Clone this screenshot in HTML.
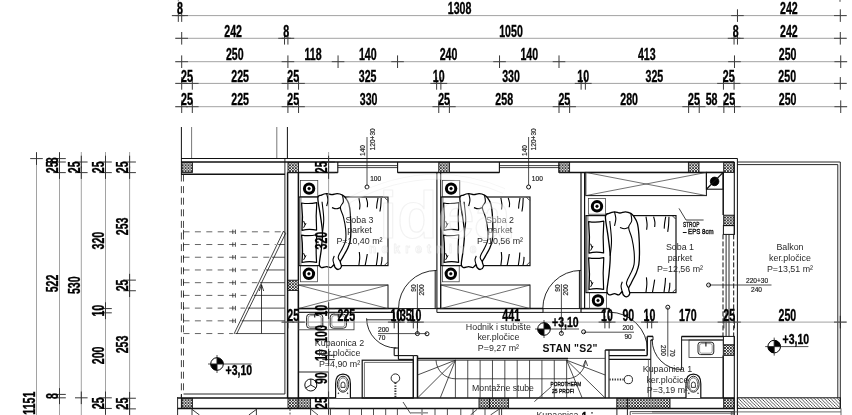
<!DOCTYPE html>
<html><head><meta charset="utf-8"><title>Floor plan</title>
<style>
html,body{margin:0;padding:0;background:#fff;}
body{width:852px;height:415px;overflow:hidden;font-family:"Liberation Sans",sans-serif;}
svg{display:block;font-family:"Liberation Sans",sans-serif;opacity:0.999;will-change:transform;}
</style></head><body>
<svg width="852" height="415" viewBox="0 0 852 415">
<defs>
<pattern id="xh" width="2.9" height="2.9" patternUnits="userSpaceOnUse">
<rect width="2.9" height="2.9" fill="#fff"/>
<path d="M0 0L2.9 2.9M2.9 0L0 2.9" stroke="#000" stroke-width="0.75"/>
</pattern>
<pattern id="dh" width="3.3" height="3.3" patternUnits="userSpaceOnUse">
<path d="M-0.5 -0.5L3.8 3.8M-0.5 2.8L0.5 3.8M2.8 -0.5L3.8 0.5" stroke="#111" stroke-width="0.7"/>
</pattern>
</defs>
<rect width="852" height="415" fill="#fff"/>
<line x1="171.7" y1="15.6" x2="846.9" y2="15.6" stroke="#8a8a8a" stroke-width="0.8"/>
<line x1="178.3" y1="9.3" x2="178.3" y2="21.9" stroke="#222" stroke-width="0.9"/>
<line x1="172" y1="15.6" x2="184.6" y2="15.6" stroke="#444" stroke-width="1"/>
<line x1="181.7" y1="9.3" x2="181.7" y2="21.9" stroke="#222" stroke-width="0.9"/>
<line x1="175.4" y1="15.6" x2="188" y2="15.6" stroke="#444" stroke-width="1"/>
<line x1="737.47" y1="9.3" x2="737.47" y2="21.9" stroke="#222" stroke-width="0.9"/>
<line x1="731.17" y1="15.6" x2="743.77" y2="15.6" stroke="#444" stroke-width="1"/>
<line x1="840.3" y1="9.3" x2="840.3" y2="21.9" stroke="#222" stroke-width="0.9"/>
<line x1="834" y1="15.6" x2="846.6" y2="15.6" stroke="#444" stroke-width="1"/>
<text transform="translate(180 14) scale(0.625 1)" font-size="17" font-weight="bold" text-anchor="middle" fill="#000" stroke="#000" stroke-width="0.35">8</text>
<text transform="translate(459.58 14) scale(0.625 1)" font-size="17" font-weight="bold" text-anchor="middle" fill="#000" stroke="#000" stroke-width="0.35">1308</text>
<text transform="translate(788.88 14) scale(0.625 1)" font-size="17" font-weight="bold" text-anchor="middle" fill="#000" stroke="#000" stroke-width="0.35">242</text>
<line x1="175.1" y1="38.3" x2="846.9" y2="38.3" stroke="#8a8a8a" stroke-width="0.8"/>
<line x1="181.7" y1="32" x2="181.7" y2="44.6" stroke="#222" stroke-width="0.9"/>
<line x1="175.4" y1="38.3" x2="188" y2="38.3" stroke="#444" stroke-width="1"/>
<line x1="284.53" y1="32" x2="284.53" y2="44.6" stroke="#222" stroke-width="0.9"/>
<line x1="278.23" y1="38.3" x2="290.83" y2="38.3" stroke="#444" stroke-width="1"/>
<line x1="287.92" y1="32" x2="287.92" y2="44.6" stroke="#222" stroke-width="0.9"/>
<line x1="281.62" y1="38.3" x2="294.22" y2="38.3" stroke="#444" stroke-width="1"/>
<line x1="734.07" y1="32" x2="734.07" y2="44.6" stroke="#222" stroke-width="0.9"/>
<line x1="727.77" y1="38.3" x2="740.37" y2="38.3" stroke="#444" stroke-width="1"/>
<line x1="737.47" y1="32" x2="737.47" y2="44.6" stroke="#222" stroke-width="0.9"/>
<line x1="731.17" y1="38.3" x2="743.77" y2="38.3" stroke="#444" stroke-width="1"/>
<line x1="840.3" y1="32" x2="840.3" y2="44.6" stroke="#222" stroke-width="0.9"/>
<line x1="834" y1="38.3" x2="846.6" y2="38.3" stroke="#444" stroke-width="1"/>
<text transform="translate(233.11 36.7) scale(0.625 1)" font-size="17" font-weight="bold" text-anchor="middle" fill="#000" stroke="#000" stroke-width="0.35">242</text>
<text transform="translate(286.23 36.7) scale(0.625 1)" font-size="17" font-weight="bold" text-anchor="middle" fill="#000" stroke="#000" stroke-width="0.35">8</text>
<text transform="translate(511 36.7) scale(0.625 1)" font-size="17" font-weight="bold" text-anchor="middle" fill="#000" stroke="#000" stroke-width="0.35">1050</text>
<text transform="translate(735.77 36.7) scale(0.625 1)" font-size="17" font-weight="bold" text-anchor="middle" fill="#000" stroke="#000" stroke-width="0.35">8</text>
<text transform="translate(788.88 36.7) scale(0.625 1)" font-size="17" font-weight="bold" text-anchor="middle" fill="#000" stroke="#000" stroke-width="0.35">242</text>
<line x1="175.1" y1="61.7" x2="847.32" y2="61.7" stroke="#8a8a8a" stroke-width="0.8"/>
<line x1="181.7" y1="55.4" x2="181.7" y2="68" stroke="#222" stroke-width="0.9"/>
<line x1="175.4" y1="61.7" x2="188" y2="61.7" stroke="#444" stroke-width="1"/>
<line x1="287.92" y1="55.4" x2="287.92" y2="68" stroke="#222" stroke-width="0.9"/>
<line x1="281.62" y1="61.7" x2="294.22" y2="61.7" stroke="#444" stroke-width="1"/>
<line x1="338.06" y1="55.4" x2="338.06" y2="68" stroke="#222" stroke-width="0.9"/>
<line x1="331.76" y1="61.7" x2="344.36" y2="61.7" stroke="#444" stroke-width="1"/>
<line x1="397.55" y1="55.4" x2="397.55" y2="68" stroke="#222" stroke-width="0.9"/>
<line x1="391.25" y1="61.7" x2="403.85" y2="61.7" stroke="#444" stroke-width="1"/>
<line x1="499.53" y1="55.4" x2="499.53" y2="68" stroke="#222" stroke-width="0.9"/>
<line x1="493.23" y1="61.7" x2="505.83" y2="61.7" stroke="#444" stroke-width="1"/>
<line x1="559.01" y1="55.4" x2="559.01" y2="68" stroke="#222" stroke-width="0.9"/>
<line x1="552.71" y1="61.7" x2="565.31" y2="61.7" stroke="#444" stroke-width="1"/>
<line x1="734.49" y1="55.4" x2="734.49" y2="68" stroke="#222" stroke-width="0.9"/>
<line x1="728.19" y1="61.7" x2="740.79" y2="61.7" stroke="#444" stroke-width="1"/>
<line x1="840.72" y1="55.4" x2="840.72" y2="68" stroke="#222" stroke-width="0.9"/>
<line x1="834.42" y1="61.7" x2="847.02" y2="61.7" stroke="#444" stroke-width="1"/>
<text transform="translate(234.81 60.1) scale(0.625 1)" font-size="17" font-weight="bold" text-anchor="middle" fill="#000" stroke="#000" stroke-width="0.35">250</text>
<text transform="translate(312.99 60.1) scale(0.625 1)" font-size="17" font-weight="bold" text-anchor="middle" fill="#000" stroke="#000" stroke-width="0.35">118</text>
<text transform="translate(367.81 60.1) scale(0.625 1)" font-size="17" font-weight="bold" text-anchor="middle" fill="#000" stroke="#000" stroke-width="0.35">140</text>
<text transform="translate(448.54 60.1) scale(0.625 1)" font-size="17" font-weight="bold" text-anchor="middle" fill="#000" stroke="#000" stroke-width="0.35">240</text>
<text transform="translate(529.27 60.1) scale(0.625 1)" font-size="17" font-weight="bold" text-anchor="middle" fill="#000" stroke="#000" stroke-width="0.35">140</text>
<text transform="translate(646.75 60.1) scale(0.625 1)" font-size="17" font-weight="bold" text-anchor="middle" fill="#000" stroke="#000" stroke-width="0.35">413</text>
<text transform="translate(787.61 60.1) scale(0.625 1)" font-size="17" font-weight="bold" text-anchor="middle" fill="#000" stroke="#000" stroke-width="0.35">250</text>
<line x1="175.1" y1="83.4" x2="846.9" y2="83.4" stroke="#8a8a8a" stroke-width="0.8"/>
<line x1="181.7" y1="77.1" x2="181.7" y2="89.7" stroke="#222" stroke-width="0.9"/>
<line x1="175.4" y1="83.4" x2="188" y2="83.4" stroke="#444" stroke-width="1"/>
<line x1="192.32" y1="77.1" x2="192.32" y2="89.7" stroke="#222" stroke-width="0.9"/>
<line x1="186.02" y1="83.4" x2="198.62" y2="83.4" stroke="#444" stroke-width="1"/>
<line x1="287.92" y1="77.1" x2="287.92" y2="89.7" stroke="#222" stroke-width="0.9"/>
<line x1="281.62" y1="83.4" x2="294.22" y2="83.4" stroke="#444" stroke-width="1"/>
<line x1="298.55" y1="77.1" x2="298.55" y2="89.7" stroke="#222" stroke-width="0.9"/>
<line x1="292.25" y1="83.4" x2="304.85" y2="83.4" stroke="#444" stroke-width="1"/>
<line x1="436.64" y1="77.1" x2="436.64" y2="89.7" stroke="#222" stroke-width="0.9"/>
<line x1="430.34" y1="83.4" x2="442.94" y2="83.4" stroke="#444" stroke-width="1"/>
<line x1="440.89" y1="77.1" x2="440.89" y2="89.7" stroke="#222" stroke-width="0.9"/>
<line x1="434.59" y1="83.4" x2="447.19" y2="83.4" stroke="#444" stroke-width="1"/>
<line x1="581.11" y1="77.1" x2="581.11" y2="89.7" stroke="#222" stroke-width="0.9"/>
<line x1="574.81" y1="83.4" x2="587.41" y2="83.4" stroke="#444" stroke-width="1"/>
<line x1="585.36" y1="77.1" x2="585.36" y2="89.7" stroke="#222" stroke-width="0.9"/>
<line x1="579.06" y1="83.4" x2="591.65" y2="83.4" stroke="#444" stroke-width="1"/>
<line x1="723.45" y1="77.1" x2="723.45" y2="89.7" stroke="#222" stroke-width="0.9"/>
<line x1="717.15" y1="83.4" x2="729.75" y2="83.4" stroke="#444" stroke-width="1"/>
<line x1="734.07" y1="77.1" x2="734.07" y2="89.7" stroke="#222" stroke-width="0.9"/>
<line x1="727.77" y1="83.4" x2="740.37" y2="83.4" stroke="#444" stroke-width="1"/>
<line x1="840.3" y1="77.1" x2="840.3" y2="89.7" stroke="#222" stroke-width="0.9"/>
<line x1="834" y1="83.4" x2="846.6" y2="83.4" stroke="#444" stroke-width="1"/>
<text transform="translate(187.01 81.8) scale(0.625 1)" font-size="17" font-weight="bold" text-anchor="middle" fill="#000" stroke="#000" stroke-width="0.35">25</text>
<text transform="translate(240.12 81.8) scale(0.625 1)" font-size="17" font-weight="bold" text-anchor="middle" fill="#000" stroke="#000" stroke-width="0.35">225</text>
<text transform="translate(293.24 81.8) scale(0.625 1)" font-size="17" font-weight="bold" text-anchor="middle" fill="#000" stroke="#000" stroke-width="0.35">25</text>
<text transform="translate(367.59 81.8) scale(0.625 1)" font-size="17" font-weight="bold" text-anchor="middle" fill="#000" stroke="#000" stroke-width="0.35">325</text>
<text transform="translate(438.76 81.8) scale(0.625 1)" font-size="17" font-weight="bold" text-anchor="middle" fill="#000" stroke="#000" stroke-width="0.35">10</text>
<text transform="translate(511 81.8) scale(0.625 1)" font-size="17" font-weight="bold" text-anchor="middle" fill="#000" stroke="#000" stroke-width="0.35">330</text>
<text transform="translate(583.23 81.8) scale(0.625 1)" font-size="17" font-weight="bold" text-anchor="middle" fill="#000" stroke="#000" stroke-width="0.35">10</text>
<text transform="translate(654.4 81.8) scale(0.625 1)" font-size="17" font-weight="bold" text-anchor="middle" fill="#000" stroke="#000" stroke-width="0.35">325</text>
<text transform="translate(728.76 81.8) scale(0.625 1)" font-size="17" font-weight="bold" text-anchor="middle" fill="#000" stroke="#000" stroke-width="0.35">25</text>
<text transform="translate(787.18 81.8) scale(0.625 1)" font-size="17" font-weight="bold" text-anchor="middle" fill="#000" stroke="#000" stroke-width="0.35">250</text>
<line x1="175.1" y1="106.7" x2="847.32" y2="106.7" stroke="#8a8a8a" stroke-width="0.8"/>
<line x1="181.7" y1="100.4" x2="181.7" y2="113" stroke="#222" stroke-width="0.9"/>
<line x1="175.4" y1="106.7" x2="188" y2="106.7" stroke="#444" stroke-width="1"/>
<line x1="192.32" y1="100.4" x2="192.32" y2="113" stroke="#222" stroke-width="0.9"/>
<line x1="186.02" y1="106.7" x2="198.62" y2="106.7" stroke="#444" stroke-width="1"/>
<line x1="287.92" y1="100.4" x2="287.92" y2="113" stroke="#222" stroke-width="0.9"/>
<line x1="281.62" y1="106.7" x2="294.22" y2="106.7" stroke="#444" stroke-width="1"/>
<line x1="298.55" y1="100.4" x2="298.55" y2="113" stroke="#222" stroke-width="0.9"/>
<line x1="292.25" y1="106.7" x2="304.85" y2="106.7" stroke="#444" stroke-width="1"/>
<line x1="438.76" y1="100.4" x2="438.76" y2="113" stroke="#222" stroke-width="0.9"/>
<line x1="432.46" y1="106.7" x2="445.06" y2="106.7" stroke="#444" stroke-width="1"/>
<line x1="449.39" y1="100.4" x2="449.39" y2="113" stroke="#222" stroke-width="0.9"/>
<line x1="443.09" y1="106.7" x2="455.69" y2="106.7" stroke="#444" stroke-width="1"/>
<line x1="559.01" y1="100.4" x2="559.01" y2="113" stroke="#222" stroke-width="0.9"/>
<line x1="552.71" y1="106.7" x2="565.31" y2="106.7" stroke="#444" stroke-width="1"/>
<line x1="569.63" y1="100.4" x2="569.63" y2="113" stroke="#222" stroke-width="0.9"/>
<line x1="563.33" y1="106.7" x2="575.93" y2="106.7" stroke="#444" stroke-width="1"/>
<line x1="688.61" y1="100.4" x2="688.61" y2="113" stroke="#222" stroke-width="0.9"/>
<line x1="682.31" y1="106.7" x2="694.91" y2="106.7" stroke="#444" stroke-width="1"/>
<line x1="699.23" y1="100.4" x2="699.23" y2="113" stroke="#222" stroke-width="0.9"/>
<line x1="692.93" y1="106.7" x2="705.53" y2="106.7" stroke="#444" stroke-width="1"/>
<line x1="723.87" y1="100.4" x2="723.87" y2="113" stroke="#222" stroke-width="0.9"/>
<line x1="717.57" y1="106.7" x2="730.17" y2="106.7" stroke="#444" stroke-width="1"/>
<line x1="734.49" y1="100.4" x2="734.49" y2="113" stroke="#222" stroke-width="0.9"/>
<line x1="728.19" y1="106.7" x2="740.79" y2="106.7" stroke="#444" stroke-width="1"/>
<line x1="840.72" y1="100.4" x2="840.72" y2="113" stroke="#222" stroke-width="0.9"/>
<line x1="834.42" y1="106.7" x2="847.02" y2="106.7" stroke="#444" stroke-width="1"/>
<text transform="translate(187.01 105.1) scale(0.625 1)" font-size="17" font-weight="bold" text-anchor="middle" fill="#000" stroke="#000" stroke-width="0.35">25</text>
<text transform="translate(240.12 105.1) scale(0.625 1)" font-size="17" font-weight="bold" text-anchor="middle" fill="#000" stroke="#000" stroke-width="0.35">225</text>
<text transform="translate(293.24 105.1) scale(0.625 1)" font-size="17" font-weight="bold" text-anchor="middle" fill="#000" stroke="#000" stroke-width="0.35">25</text>
<text transform="translate(368.66 105.1) scale(0.625 1)" font-size="17" font-weight="bold" text-anchor="middle" fill="#000" stroke="#000" stroke-width="0.35">330</text>
<text transform="translate(444.08 105.1) scale(0.625 1)" font-size="17" font-weight="bold" text-anchor="middle" fill="#000" stroke="#000" stroke-width="0.35">25</text>
<text transform="translate(504.2 105.1) scale(0.625 1)" font-size="17" font-weight="bold" text-anchor="middle" fill="#000" stroke="#000" stroke-width="0.35">258</text>
<text transform="translate(564.32 105.1) scale(0.625 1)" font-size="17" font-weight="bold" text-anchor="middle" fill="#000" stroke="#000" stroke-width="0.35">25</text>
<text transform="translate(629.12 105.1) scale(0.625 1)" font-size="17" font-weight="bold" text-anchor="middle" fill="#000" stroke="#000" stroke-width="0.35">280</text>
<text transform="translate(693.92 105.1) scale(0.625 1)" font-size="17" font-weight="bold" text-anchor="middle" fill="#000" stroke="#000" stroke-width="0.35">25</text>
<text transform="translate(711.55 105.1) scale(0.625 1)" font-size="17" font-weight="bold" text-anchor="middle" fill="#000" stroke="#000" stroke-width="0.35">58</text>
<text transform="translate(729.18 105.1) scale(0.625 1)" font-size="17" font-weight="bold" text-anchor="middle" fill="#000" stroke="#000" stroke-width="0.35">25</text>
<text transform="translate(787.61 105.1) scale(0.625 1)" font-size="17" font-weight="bold" text-anchor="middle" fill="#000" stroke="#000" stroke-width="0.35">250</text>
<line x1="36.5" y1="152" x2="36.5" y2="415" stroke="#8a8a8a" stroke-width="0.8"/>
<line x1="30.2" y1="158.6" x2="42.8" y2="158.6" stroke="#222" stroke-width="0.9"/>
<line x1="36.5" y1="152.3" x2="36.5" y2="164.9" stroke="#333" stroke-width="1"/>
<text transform="translate(34.9 403.13) rotate(-90) scale(0.625 1)" font-size="17" font-weight="bold" text-anchor="middle" fill="#000" stroke="#000" stroke-width="0.35">1151</text>
<line x1="59.5" y1="152" x2="59.5" y2="415" stroke="#8a8a8a" stroke-width="0.8"/>
<line x1="53.2" y1="158.6" x2="65.8" y2="158.6" stroke="#222" stroke-width="0.9"/>
<line x1="59.5" y1="152.3" x2="59.5" y2="164.9" stroke="#333" stroke-width="1"/>
<line x1="53.2" y1="162" x2="65.8" y2="162" stroke="#222" stroke-width="0.9"/>
<line x1="59.5" y1="155.7" x2="59.5" y2="168.3" stroke="#333" stroke-width="1"/>
<line x1="53.2" y1="172.62" x2="65.8" y2="172.62" stroke="#222" stroke-width="0.9"/>
<line x1="59.5" y1="166.32" x2="59.5" y2="178.92" stroke="#333" stroke-width="1"/>
<line x1="53.2" y1="394.42" x2="65.8" y2="394.42" stroke="#222" stroke-width="0.9"/>
<line x1="59.5" y1="388.12" x2="59.5" y2="400.72" stroke="#333" stroke-width="1"/>
<line x1="53.2" y1="397.82" x2="65.8" y2="397.82" stroke="#222" stroke-width="0.9"/>
<line x1="59.5" y1="391.52" x2="59.5" y2="404.12" stroke="#333" stroke-width="1"/>
<text transform="translate(57.9 160.3) rotate(-90) scale(0.625 1)" font-size="17" font-weight="bold" text-anchor="middle" fill="#000" stroke="#000" stroke-width="0.35">8</text>
<text transform="translate(57.9 167.31) rotate(-90) scale(0.625 1)" font-size="17" font-weight="bold" text-anchor="middle" fill="#000" stroke="#000" stroke-width="0.35">25</text>
<text transform="translate(57.9 283.52) rotate(-90) scale(0.625 1)" font-size="17" font-weight="bold" text-anchor="middle" fill="#000" stroke="#000" stroke-width="0.35">522</text>
<text transform="translate(57.9 396.12) rotate(-90) scale(0.625 1)" font-size="17" font-weight="bold" text-anchor="middle" fill="#000" stroke="#000" stroke-width="0.35">8</text>
<line x1="81.3" y1="152" x2="81.3" y2="415" stroke="#8a8a8a" stroke-width="0.8"/>
<line x1="75" y1="162" x2="87.6" y2="162" stroke="#222" stroke-width="0.9"/>
<line x1="81.3" y1="155.7" x2="81.3" y2="168.3" stroke="#333" stroke-width="1"/>
<line x1="75" y1="172.62" x2="87.6" y2="172.62" stroke="#222" stroke-width="0.9"/>
<line x1="81.3" y1="166.32" x2="81.3" y2="178.92" stroke="#333" stroke-width="1"/>
<line x1="75" y1="397.82" x2="87.6" y2="397.82" stroke="#222" stroke-width="0.9"/>
<line x1="81.3" y1="391.52" x2="81.3" y2="404.12" stroke="#333" stroke-width="1"/>
<text transform="translate(79.7 167.31) rotate(-90) scale(0.625 1)" font-size="17" font-weight="bold" text-anchor="middle" fill="#000" stroke="#000" stroke-width="0.35">25</text>
<text transform="translate(79.7 285.22) rotate(-90) scale(0.625 1)" font-size="17" font-weight="bold" text-anchor="middle" fill="#000" stroke="#000" stroke-width="0.35">530</text>
<line x1="105.5" y1="152" x2="105.5" y2="415" stroke="#8a8a8a" stroke-width="0.8"/>
<line x1="99.2" y1="162" x2="111.8" y2="162" stroke="#222" stroke-width="0.9"/>
<line x1="105.5" y1="155.7" x2="105.5" y2="168.3" stroke="#333" stroke-width="1"/>
<line x1="99.2" y1="172.62" x2="111.8" y2="172.62" stroke="#222" stroke-width="0.9"/>
<line x1="105.5" y1="166.32" x2="105.5" y2="178.92" stroke="#333" stroke-width="1"/>
<line x1="99.2" y1="308.59" x2="111.8" y2="308.59" stroke="#222" stroke-width="0.9"/>
<line x1="105.5" y1="302.29" x2="105.5" y2="314.89" stroke="#333" stroke-width="1"/>
<line x1="99.2" y1="312.84" x2="111.8" y2="312.84" stroke="#222" stroke-width="0.9"/>
<line x1="105.5" y1="306.54" x2="105.5" y2="319.14" stroke="#333" stroke-width="1"/>
<line x1="99.2" y1="397.82" x2="111.8" y2="397.82" stroke="#222" stroke-width="0.9"/>
<line x1="105.5" y1="391.52" x2="105.5" y2="404.12" stroke="#333" stroke-width="1"/>
<line x1="99.2" y1="408.44" x2="111.8" y2="408.44" stroke="#222" stroke-width="0.9"/>
<line x1="105.5" y1="402.14" x2="105.5" y2="414.74" stroke="#333" stroke-width="1"/>
<text transform="translate(103.9 167.31) rotate(-90) scale(0.625 1)" font-size="17" font-weight="bold" text-anchor="middle" fill="#000" stroke="#000" stroke-width="0.35">25</text>
<text transform="translate(103.9 240.61) rotate(-90) scale(0.625 1)" font-size="17" font-weight="bold" text-anchor="middle" fill="#000" stroke="#000" stroke-width="0.35">320</text>
<text transform="translate(103.9 310.72) rotate(-90) scale(0.625 1)" font-size="17" font-weight="bold" text-anchor="middle" fill="#000" stroke="#000" stroke-width="0.35">10</text>
<text transform="translate(103.9 355.33) rotate(-90) scale(0.625 1)" font-size="17" font-weight="bold" text-anchor="middle" fill="#000" stroke="#000" stroke-width="0.35">200</text>
<text transform="translate(103.9 403.13) rotate(-90) scale(0.625 1)" font-size="17" font-weight="bold" text-anchor="middle" fill="#000" stroke="#000" stroke-width="0.35">25</text>
<line x1="129.6" y1="152" x2="129.6" y2="415" stroke="#8a8a8a" stroke-width="0.8"/>
<line x1="123.3" y1="162" x2="135.9" y2="162" stroke="#222" stroke-width="0.9"/>
<line x1="129.6" y1="155.7" x2="129.6" y2="168.3" stroke="#333" stroke-width="1"/>
<line x1="123.3" y1="172.62" x2="135.9" y2="172.62" stroke="#222" stroke-width="0.9"/>
<line x1="129.6" y1="166.32" x2="129.6" y2="178.92" stroke="#333" stroke-width="1"/>
<line x1="123.3" y1="280.12" x2="135.9" y2="280.12" stroke="#222" stroke-width="0.9"/>
<line x1="129.6" y1="273.82" x2="129.6" y2="286.42" stroke="#333" stroke-width="1"/>
<line x1="123.3" y1="290.74" x2="135.9" y2="290.74" stroke="#222" stroke-width="0.9"/>
<line x1="129.6" y1="284.44" x2="129.6" y2="297.04" stroke="#333" stroke-width="1"/>
<line x1="123.3" y1="398.24" x2="135.9" y2="398.24" stroke="#222" stroke-width="0.9"/>
<line x1="129.6" y1="391.94" x2="129.6" y2="404.54" stroke="#333" stroke-width="1"/>
<line x1="123.3" y1="408.87" x2="135.9" y2="408.87" stroke="#222" stroke-width="0.9"/>
<line x1="129.6" y1="402.57" x2="129.6" y2="415.17" stroke="#333" stroke-width="1"/>
<text transform="translate(128 167.31) rotate(-90) scale(0.625 1)" font-size="17" font-weight="bold" text-anchor="middle" fill="#000" stroke="#000" stroke-width="0.35">25</text>
<text transform="translate(128 226.37) rotate(-90) scale(0.625 1)" font-size="17" font-weight="bold" text-anchor="middle" fill="#000" stroke="#000" stroke-width="0.35">253</text>
<text transform="translate(128 285.43) rotate(-90) scale(0.625 1)" font-size="17" font-weight="bold" text-anchor="middle" fill="#000" stroke="#000" stroke-width="0.35">25</text>
<text transform="translate(128 344.49) rotate(-90) scale(0.625 1)" font-size="17" font-weight="bold" text-anchor="middle" fill="#000" stroke="#000" stroke-width="0.35">253</text>
<text transform="translate(128 403.56) rotate(-90) scale(0.625 1)" font-size="17" font-weight="bold" text-anchor="middle" fill="#000" stroke="#000" stroke-width="0.35">25</text>
<line x1="181.4" y1="127" x2="181.4" y2="158.5" stroke="#111" stroke-width="1"/>
<line x1="191.6" y1="127" x2="191.6" y2="158.5" stroke="#555" stroke-width="0.8"/>
<line x1="276.8" y1="127" x2="276.8" y2="158.5" stroke="#555" stroke-width="0.8"/>
<line x1="287.4" y1="127" x2="287.4" y2="158.5" stroke="#111" stroke-width="1"/>
<line x1="181" y1="158.5" x2="737.5" y2="158.5" stroke="#111" stroke-width="1"/>
<line x1="737.4" y1="158.5" x2="737.4" y2="415" stroke="#111" stroke-width="1"/>
<line x1="181" y1="162" x2="734.3" y2="162" stroke="#111" stroke-width="1.5"/>
<line x1="181" y1="174.2" x2="285" y2="174.2" stroke="#111" stroke-width="1.5"/>
<line x1="181.4" y1="158.5" x2="181.4" y2="174.5" stroke="#111" stroke-width="1"/>
<line x1="284.9" y1="158.5" x2="284.9" y2="394" stroke="#111" stroke-width="0.9"/>
<line x1="287.6" y1="172.4" x2="337.8" y2="172.4" stroke="#111" stroke-width="1.5"/>
<line x1="397.6" y1="172.4" x2="499.4" y2="172.4" stroke="#111" stroke-width="1.5"/>
<line x1="559" y1="172.4" x2="723.2" y2="172.4" stroke="#111" stroke-width="1.5"/>
<line x1="337.8" y1="162" x2="337.8" y2="172.8" stroke="#111" stroke-width="1.1"/>
<line x1="397.6" y1="162" x2="397.6" y2="172.8" stroke="#111" stroke-width="1.1"/>
<line x1="337.8" y1="165.6" x2="397.6" y2="165.6" stroke="#111" stroke-width="0.8"/>
<line x1="337.8" y1="167.6" x2="397.6" y2="167.6" stroke="#111" stroke-width="0.8"/>
<line x1="499.4" y1="162" x2="499.4" y2="172.8" stroke="#111" stroke-width="1.1"/>
<line x1="559" y1="162" x2="559" y2="172.8" stroke="#111" stroke-width="1.1"/>
<line x1="499.4" y1="165.6" x2="559" y2="165.6" stroke="#111" stroke-width="0.8"/>
<line x1="499.4" y1="167.6" x2="559" y2="167.6" stroke="#111" stroke-width="0.8"/>
<rect x="181.9" y="162.4" width="10.5" height="10" fill="url(#xh)" stroke="#111" stroke-width="0.9"/>
<rect x="288" y="162.4" width="10.5" height="10" fill="url(#xh)" stroke="#111" stroke-width="0.9"/>
<rect x="438.8" y="162.4" width="10.6" height="10" fill="url(#xh)" stroke="#111" stroke-width="0.9"/>
<rect x="559" y="162.4" width="10.6" height="10" fill="url(#xh)" stroke="#111" stroke-width="0.9"/>
<rect x="688.4" y="162.4" width="10.6" height="10" fill="url(#xh)" stroke="#111" stroke-width="0.9"/>
<rect x="723.7" y="162.4" width="10.3" height="10" fill="url(#xh)" stroke="#111" stroke-width="0.9"/>
<line x1="734.3" y1="162" x2="734.3" y2="234.4" stroke="#111" stroke-width="1.1"/>
<line x1="734.3" y1="336.4" x2="734.3" y2="415" stroke="#111" stroke-width="1.1"/>
<line x1="723.2" y1="172.4" x2="723.2" y2="215" stroke="#111" stroke-width="1.5"/>
<rect x="723.7" y="215.2" width="10.3" height="10.4" fill="url(#xh)" stroke="#111" stroke-width="0.9"/>
<rect x="723.4" y="225.6" width="10.9" height="8.8" fill="none" stroke="#111" stroke-width="1"/>
<line x1="723" y1="234.4" x2="723" y2="336.4" stroke="#111" stroke-width="1" stroke-dasharray="5 2"/>
<line x1="726.1" y1="234.4" x2="726.1" y2="336.4" stroke="#111" stroke-width="0.9"/>
<line x1="729" y1="234.4" x2="729" y2="336.4" stroke="#111" stroke-width="0.9"/>
<line x1="733.7" y1="234.4" x2="733.7" y2="336.4" stroke="#111" stroke-width="1" stroke-dasharray="5 2"/>
<rect x="723.4" y="336.4" width="10.9" height="8.6" fill="none" stroke="#111" stroke-width="1"/>
<rect x="723.7" y="345" width="10.3" height="10.4" fill="url(#xh)" stroke="#111" stroke-width="0.9"/>
<line x1="723.2" y1="355.4" x2="723.2" y2="398" stroke="#111" stroke-width="1.5"/>
<rect x="723.7" y="398.2" width="10.3" height="10" fill="url(#xh)" stroke="#111" stroke-width="0.9"/>
<line x1="737.4" y1="162" x2="840.3" y2="162" stroke="#111" stroke-width="0.9"/>
<line x1="737.4" y1="164.6" x2="837.8" y2="164.6" stroke="#111" stroke-width="0.9"/>
<line x1="840.3" y1="162" x2="840.3" y2="408.4" stroke="#111" stroke-width="0.9"/>
<line x1="837.8" y1="164.6" x2="837.8" y2="397.8" stroke="#111" stroke-width="0.9"/>
<rect x="737.4" y="397.8" width="102.9" height="10.6" fill="url(#dh)" stroke="#111" stroke-width="1"/>
<line x1="652" y1="411.9" x2="841" y2="411.9" stroke="#444" stroke-width="0.8"/>
<line x1="841" y1="408.4" x2="841" y2="415" stroke="#444" stroke-width="0.8"/>
<line x1="731.3" y1="412" x2="731.3" y2="415" stroke="#111" stroke-width="0.7"/>
<line x1="733" y1="412" x2="733" y2="415" stroke="#111" stroke-width="0.7"/>
<line x1="177.6" y1="397" x2="177.6" y2="415" stroke="#111" stroke-width="0.9"/>
<line x1="177.6" y1="398" x2="734.3" y2="398" stroke="#111" stroke-width="1.5"/>
<line x1="177.6" y1="408.4" x2="734.3" y2="408.4" stroke="#111" stroke-width="1.5"/>
<line x1="181.4" y1="394" x2="181.4" y2="408.4" stroke="#111" stroke-width="1"/>
<rect x="181.9" y="398.4" width="10.5" height="9.6" fill="url(#xh)" stroke="#111" stroke-width="0.9"/>
<rect x="288" y="398.4" width="10.2" height="9.6" fill="url(#xh)" stroke="#111" stroke-width="0.9"/>
<rect x="298.2" y="398.4" width="12.4" height="9.6" fill="url(#xh)" stroke="#111" stroke-width="0.9"/>
<rect x="479" y="398.4" width="10.4" height="9.6" fill="url(#xh)" stroke="#111" stroke-width="0.9"/>
<rect x="489.4" y="398.4" width="19.2" height="9.6" fill="url(#xh)" stroke="#111" stroke-width="0.9"/>
<rect x="616.8" y="398.4" width="10.6" height="9.6" fill="url(#xh)" stroke="#111" stroke-width="0.9"/>
<rect x="627.4" y="398.4" width="42.6" height="9.6" fill="url(#xh)" stroke="#111" stroke-width="0.9"/>
<line x1="181.4" y1="174.5" x2="181.4" y2="398" stroke="#222" stroke-width="0.85" stroke-dasharray="7 4.6"/>
<line x1="183.5" y1="174.5" x2="183.5" y2="394" stroke="#222" stroke-width="0.8" stroke-dasharray="7 4.6"/>
<line x1="183.5" y1="394" x2="284.9" y2="394" stroke="#111" stroke-width="0.9"/>
<line x1="287.6" y1="172.4" x2="287.6" y2="398" stroke="#111" stroke-width="1.5"/>
<line x1="298.4" y1="172.4" x2="298.4" y2="280" stroke="#111" stroke-width="1.5"/>
<rect x="288" y="280.2" width="10.4" height="10.2" fill="url(#xh)" stroke="#111" stroke-width="0.9"/>
<line x1="298.4" y1="290.4" x2="298.4" y2="398" stroke="#111" stroke-width="1.5"/>
<line x1="183.5" y1="231.8" x2="281.9" y2="231.8" stroke="#333" stroke-width="0.75" stroke-dasharray="6 5.4"/>
<line x1="232.8" y1="229.6" x2="232.8" y2="234" stroke="#222" stroke-width="0.8"/>
<line x1="235.4" y1="229.6" x2="235.4" y2="234" stroke="#222" stroke-width="0.8"/>
<line x1="183.5" y1="229.8" x2="183.5" y2="233.8" stroke="#222" stroke-width="0.8"/>
<line x1="183.5" y1="244.52" x2="275.78" y2="244.52" stroke="#333" stroke-width="0.75" stroke-dasharray="6 5.4"/>
<line x1="278.28" y1="244.52" x2="284.9" y2="244.52" stroke="#222" stroke-width="0.8"/>
<line x1="232.8" y1="242.32" x2="232.8" y2="246.72" stroke="#222" stroke-width="0.8"/>
<line x1="235.4" y1="242.32" x2="235.4" y2="246.72" stroke="#222" stroke-width="0.8"/>
<line x1="183.5" y1="242.52" x2="183.5" y2="246.52" stroke="#222" stroke-width="0.8"/>
<line x1="183.5" y1="257.24" x2="269.66" y2="257.24" stroke="#333" stroke-width="0.75" stroke-dasharray="6 5.4"/>
<line x1="272.16" y1="257.24" x2="284.9" y2="257.24" stroke="#222" stroke-width="0.8"/>
<line x1="232.8" y1="255.04" x2="232.8" y2="259.44" stroke="#222" stroke-width="0.8"/>
<line x1="235.4" y1="255.04" x2="235.4" y2="259.44" stroke="#222" stroke-width="0.8"/>
<line x1="183.5" y1="255.24" x2="183.5" y2="259.24" stroke="#222" stroke-width="0.8"/>
<line x1="183.5" y1="269.96" x2="263.53" y2="269.96" stroke="#333" stroke-width="0.75" stroke-dasharray="6 5.4"/>
<line x1="266.03" y1="269.96" x2="284.9" y2="269.96" stroke="#222" stroke-width="0.8"/>
<line x1="232.8" y1="267.76" x2="232.8" y2="272.16" stroke="#222" stroke-width="0.8"/>
<line x1="235.4" y1="267.76" x2="235.4" y2="272.16" stroke="#222" stroke-width="0.8"/>
<line x1="183.5" y1="267.96" x2="183.5" y2="271.96" stroke="#222" stroke-width="0.8"/>
<line x1="183.5" y1="282.68" x2="257.41" y2="282.68" stroke="#333" stroke-width="0.75" stroke-dasharray="6 5.4"/>
<line x1="259.91" y1="282.68" x2="284.9" y2="282.68" stroke="#222" stroke-width="0.8"/>
<line x1="232.8" y1="280.48" x2="232.8" y2="284.88" stroke="#222" stroke-width="0.8"/>
<line x1="235.4" y1="280.48" x2="235.4" y2="284.88" stroke="#222" stroke-width="0.8"/>
<line x1="183.5" y1="280.68" x2="183.5" y2="284.68" stroke="#222" stroke-width="0.8"/>
<line x1="183.5" y1="295.4" x2="251.28" y2="295.4" stroke="#333" stroke-width="0.75" stroke-dasharray="6 5.4"/>
<line x1="253.78" y1="295.4" x2="284.9" y2="295.4" stroke="#222" stroke-width="0.8"/>
<line x1="232.8" y1="293.2" x2="232.8" y2="297.6" stroke="#222" stroke-width="0.8"/>
<line x1="235.4" y1="293.2" x2="235.4" y2="297.6" stroke="#222" stroke-width="0.8"/>
<line x1="183.5" y1="293.4" x2="183.5" y2="297.4" stroke="#222" stroke-width="0.8"/>
<line x1="183.5" y1="308.12" x2="245.16" y2="308.12" stroke="#333" stroke-width="0.75" stroke-dasharray="6 5.4"/>
<line x1="247.66" y1="308.12" x2="284.9" y2="308.12" stroke="#222" stroke-width="0.8"/>
<line x1="232.8" y1="305.92" x2="232.8" y2="310.32" stroke="#222" stroke-width="0.8"/>
<line x1="235.4" y1="305.92" x2="235.4" y2="310.32" stroke="#222" stroke-width="0.8"/>
<line x1="183.5" y1="306.12" x2="183.5" y2="310.12" stroke="#222" stroke-width="0.8"/>
<line x1="183.5" y1="320.84" x2="239.04" y2="320.84" stroke="#333" stroke-width="0.75" stroke-dasharray="6 5.4"/>
<line x1="241.54" y1="320.84" x2="284.9" y2="320.84" stroke="#222" stroke-width="0.8"/>
<line x1="232.8" y1="318.64" x2="232.8" y2="323.04" stroke="#222" stroke-width="0.8"/>
<line x1="235.4" y1="318.64" x2="235.4" y2="323.04" stroke="#222" stroke-width="0.8"/>
<line x1="183.5" y1="318.84" x2="183.5" y2="322.84" stroke="#222" stroke-width="0.8"/>
<line x1="183.5" y1="333.56" x2="232.91" y2="333.56" stroke="#333" stroke-width="0.75" stroke-dasharray="6 5.4"/>
<line x1="235.41" y1="333.56" x2="284.9" y2="333.56" stroke="#222" stroke-width="0.8"/>
<line x1="283.6" y1="231" x2="234" y2="334" stroke="#111" stroke-width="0.8"/>
<line x1="285.6" y1="233.4" x2="236.6" y2="334" stroke="#111" stroke-width="0.8"/>
<line x1="283.6" y1="231" x2="285.6" y2="233.4" stroke="#111" stroke-width="0.8"/>
<line x1="261.5" y1="285" x2="261.5" y2="333.5" stroke="#111" stroke-width="0.8"/>
<path d="M259.3 291 L261.5 284.5 L263.7 291" fill="none" stroke="#111" stroke-width="0.8" />
<line x1="436.9" y1="172.4" x2="436.9" y2="308.6" stroke="#111" stroke-width="1.1"/>
<line x1="440.7" y1="172.4" x2="440.7" y2="308.6" stroke="#111" stroke-width="1.1"/>
<line x1="581" y1="172.4" x2="581" y2="312.4" stroke="#111" stroke-width="1.2"/>
<line x1="584.6" y1="172.4" x2="584.6" y2="308.6" stroke="#111" stroke-width="1.2"/>
<line x1="298.4" y1="308.6" x2="398.4" y2="308.6" stroke="#111" stroke-width="1.5"/>
<line x1="298.4" y1="312.4" x2="394.2" y2="312.4" stroke="#111" stroke-width="1.1"/>
<line x1="398.4" y1="308.6" x2="398.4" y2="312.8" stroke="#111" stroke-width="1"/>
<line x1="436.9" y1="308.6" x2="543" y2="308.6" stroke="#111" stroke-width="1.5"/>
<line x1="436.9" y1="312.4" x2="543" y2="312.4" stroke="#111" stroke-width="1"/>
<line x1="543" y1="308.6" x2="543" y2="312.4" stroke="#111" stroke-width="1"/>
<line x1="436.9" y1="308.6" x2="436.9" y2="312.4" stroke="#111" stroke-width="1"/>
<line x1="581" y1="308.6" x2="609.4" y2="308.6" stroke="#111" stroke-width="1.5"/>
<line x1="581" y1="312.4" x2="605.2" y2="312.4" stroke="#111" stroke-width="1"/>
<line x1="398.4" y1="308.6" x2="436.9" y2="308.6" stroke="#111" stroke-width="1"/>
<line x1="543" y1="308.6" x2="581" y2="308.6" stroke="#111" stroke-width="1"/>
<line x1="543" y1="312.4" x2="581" y2="312.4" stroke="#111" stroke-width="0.9"/>
<rect x="298.4" y="285" width="89.6" height="23.6" fill="none" stroke="#111" stroke-width="1"/>
<line x1="298.4" y1="285" x2="388" y2="308.6" stroke="#333" stroke-width="0.7"/>
<line x1="298.4" y1="308.6" x2="388" y2="285" stroke="#333" stroke-width="0.7"/>
<rect x="440.7" y="285" width="89.3" height="23.6" fill="none" stroke="#111" stroke-width="1"/>
<line x1="440.7" y1="285" x2="530" y2="308.6" stroke="#333" stroke-width="0.7"/>
<line x1="440.7" y1="308.6" x2="530" y2="285" stroke="#333" stroke-width="0.7"/>
<rect x="585.8" y="172.4" width="120.6" height="23.2" fill="none" stroke="#111" stroke-width="1"/>
<line x1="585.8" y1="172.4" x2="706.4" y2="195.6" stroke="#333" stroke-width="0.7"/>
<line x1="585.8" y1="195.6" x2="706.4" y2="172.4" stroke="#333" stroke-width="0.7"/>
<rect x="706.4" y="172.4" width="16.8" height="16.8" fill="none" stroke="#111" stroke-width="1.1"/>
<circle cx="714.6" cy="181.4" r="4.3" fill="#000" stroke="#000" stroke-width="0.8"/>
<line x1="706.4" y1="189.2" x2="723.2" y2="172.4" stroke="#111" stroke-width="1.3"/>
<rect x="300.4" y="180.4" width="17.4" height="16.4" fill="none" stroke="#333" stroke-width="0.7"/>
<circle cx="309.1" cy="188.6" r="4.7" fill="none" stroke="#000" stroke-width="3"/>
<circle cx="309.1" cy="188.6" r="1.3" fill="#000" stroke="#000" stroke-width="0.6"/>
<rect x="300.4" y="265.8" width="17" height="16" fill="none" stroke="#333" stroke-width="0.7"/>
<circle cx="308.9" cy="273.8" r="4.7" fill="none" stroke="#000" stroke-width="3"/>
<circle cx="308.9" cy="273.8" r="1.3" fill="#000" stroke="#000" stroke-width="0.6"/>
<rect x="442.4" y="180.4" width="17.4" height="16.4" fill="none" stroke="#333" stroke-width="0.7"/>
<circle cx="451.1" cy="188.6" r="4.7" fill="none" stroke="#000" stroke-width="3"/>
<circle cx="451.1" cy="188.6" r="1.3" fill="#000" stroke="#000" stroke-width="0.6"/>
<rect x="442.4" y="265.8" width="16.8" height="16" fill="none" stroke="#333" stroke-width="0.7"/>
<circle cx="450.8" cy="273.8" r="4.7" fill="none" stroke="#000" stroke-width="3"/>
<circle cx="450.8" cy="273.8" r="1.3" fill="#000" stroke="#000" stroke-width="0.6"/>
<rect x="588.4" y="198.4" width="17.2" height="15.8" fill="none" stroke="#333" stroke-width="0.7"/>
<circle cx="597" cy="206.3" r="4.7" fill="none" stroke="#000" stroke-width="3"/>
<circle cx="597" cy="206.3" r="1.3" fill="#000" stroke="#000" stroke-width="0.6"/>
<rect x="589.6" y="292.6" width="16.8" height="15.8" fill="none" stroke="#333" stroke-width="0.7"/>
<circle cx="598" cy="300.5" r="4.7" fill="none" stroke="#000" stroke-width="3"/>
<circle cx="598" cy="300.5" r="1.3" fill="#000" stroke="#000" stroke-width="0.6"/>
<path d="M398.5 308.6 A38.2 38.2 0 0 1 436.7 270.4" fill="none" stroke="#111" stroke-width="0.9" />
<line x1="435.2" y1="270.4" x2="435.2" y2="308.6" stroke="#111" stroke-width="1"/>
<path d="M542.8 308.6 A38.2 38.2 0 0 1 581 270.4" fill="none" stroke="#111" stroke-width="0.9" />
<line x1="579.4" y1="270.4" x2="579.4" y2="308.6" stroke="#111" stroke-width="1"/>
<path d="M609.4 312.2 A38.2 38.2 0 0 1 647.6 350.4" fill="none" stroke="#111" stroke-width="0.9" />
<path d="M366.6 318.3 A29.7 29.7 0 0 0 396.3 348" fill="none" stroke="#111" stroke-width="0.9" />
<line x1="366.6" y1="319.8" x2="394" y2="319.8" stroke="#111" stroke-width="0.9"/>
<path d="M652.2 340 A29.6 29.6 0 0 0 681.6 369.6" fill="none" stroke="#111" stroke-width="0.9" />
<line x1="681.6" y1="340" x2="681.6" y2="369.6" stroke="#111" stroke-width="1"/>
<line x1="394.2" y1="312.4" x2="394.2" y2="318" stroke="#111" stroke-width="1.1"/>
<line x1="394.2" y1="348" x2="394.2" y2="355.6" stroke="#111" stroke-width="1.1"/>
<line x1="398.4" y1="312.8" x2="398.4" y2="359.4" stroke="#111" stroke-width="1.1"/>
<line x1="394.2" y1="355.6" x2="413.3" y2="355.6" stroke="#111" stroke-width="1.1"/>
<line x1="398.4" y1="359.4" x2="413.3" y2="359.4" stroke="#111" stroke-width="1.1"/>
<line x1="413.3" y1="355.6" x2="417.5" y2="355.6" stroke="#111" stroke-width="1.1"/>
<line x1="394.2" y1="348" x2="398.4" y2="348" stroke="#111" stroke-width="1"/>
<line x1="413.3" y1="355.6" x2="413.3" y2="398" stroke="#111" stroke-width="1.1"/>
<line x1="417.5" y1="355.6" x2="417.5" y2="398" stroke="#111" stroke-width="1.5"/>
<line x1="605.2" y1="308.6" x2="605.2" y2="312.4" stroke="#111" stroke-width="1.1"/>
<line x1="609.4" y1="308.6" x2="609.4" y2="312.4" stroke="#111" stroke-width="1.1"/>
<line x1="605.2" y1="350" x2="605.2" y2="398" stroke="#111" stroke-width="1.1"/>
<line x1="609" y1="350" x2="609" y2="398" stroke="#111" stroke-width="1.1"/>
<line x1="605.2" y1="350" x2="645" y2="350" stroke="#111" stroke-width="1.5"/>
<line x1="609" y1="355.6" x2="647.2" y2="355.6" stroke="#111" stroke-width="1.1"/>
<line x1="609" y1="359.4" x2="650.8" y2="359.4" stroke="#111" stroke-width="1.1"/>
<line x1="647.2" y1="336.4" x2="647.2" y2="355.6" stroke="#111" stroke-width="1.5"/>
<line x1="650.8" y1="340" x2="650.8" y2="398" stroke="#111" stroke-width="1"/>
<line x1="648.4" y1="359.4" x2="648.4" y2="398" stroke="#444" stroke-width="0.7"/>
<line x1="647.2" y1="336.4" x2="653" y2="336.4" stroke="#111" stroke-width="1.5"/>
<line x1="650.8" y1="340" x2="653" y2="340" stroke="#111" stroke-width="1.5"/>
<line x1="653" y1="336.4" x2="653" y2="340" stroke="#111" stroke-width="1"/>
<line x1="681.6" y1="336.4" x2="723.2" y2="336.4" stroke="#111" stroke-width="1.5"/>
<line x1="681.6" y1="340" x2="723.2" y2="340" stroke="#111" stroke-width="1"/>
<line x1="681.6" y1="336.4" x2="681.6" y2="340" stroke="#111" stroke-width="1"/>
<line x1="417.5" y1="358.4" x2="568" y2="358.4" stroke="#111" stroke-width="1.5"/>
<line x1="417.5" y1="360.2" x2="568" y2="360.2" stroke="#111" stroke-width="0.8"/>
<line x1="455.4" y1="360.2" x2="455.4" y2="398" stroke="#222" stroke-width="0.8"/>
<line x1="467.76" y1="360.2" x2="467.76" y2="398" stroke="#222" stroke-width="0.8"/>
<line x1="480.12" y1="360.2" x2="480.12" y2="398" stroke="#222" stroke-width="0.8"/>
<line x1="492.48" y1="360.2" x2="492.48" y2="398" stroke="#222" stroke-width="0.8"/>
<line x1="504.84" y1="360.2" x2="504.84" y2="398" stroke="#222" stroke-width="0.8"/>
<line x1="517.2" y1="360.2" x2="517.2" y2="398" stroke="#222" stroke-width="0.8"/>
<line x1="529.56" y1="360.2" x2="529.56" y2="398" stroke="#222" stroke-width="0.8"/>
<line x1="541.92" y1="360.2" x2="541.92" y2="398" stroke="#222" stroke-width="0.8"/>
<line x1="554.28" y1="360.2" x2="554.28" y2="398" stroke="#222" stroke-width="0.8"/>
<line x1="566.64" y1="360.2" x2="566.64" y2="398" stroke="#222" stroke-width="0.8"/>
<line x1="455.4" y1="378.8" x2="566.6" y2="378.8" stroke="#222" stroke-width="0.8"/>
<line x1="455.4" y1="360.2" x2="417.5" y2="375" stroke="#222" stroke-width="0.8"/>
<line x1="455.4" y1="360.2" x2="417.5" y2="398" stroke="#222" stroke-width="0.8"/>
<line x1="455.4" y1="360.2" x2="440.2" y2="398" stroke="#222" stroke-width="0.8"/>
<path d="M436 360.2 A19.4 19.4 0 0 0 455.4 378.8" fill="none" stroke="#222" stroke-width="0.8" />
<line x1="566.6" y1="360.2" x2="605.2" y2="375" stroke="#222" stroke-width="0.8"/>
<line x1="566.6" y1="360.2" x2="605.2" y2="398" stroke="#222" stroke-width="0.8"/>
<line x1="566.6" y1="360.2" x2="582.2" y2="398" stroke="#222" stroke-width="0.8"/>
<path d="M566.6 378.8 A19 19 0 0 0 585.4 361" fill="none" stroke="#222" stroke-width="0.8" />
<path d="M583.2 366 L585.5 360.2 L587.6 366" fill="none" stroke="#222" stroke-width="0.8" />
<line x1="568" y1="358.4" x2="605.2" y2="358.4" stroke="#333" stroke-width="0.8"/>
<rect x="299" y="197" width="89" height="68.6" fill="none" stroke="#111" stroke-width="1.2"/>
<line x1="300.9" y1="197" x2="300.9" y2="265.6" stroke="#333" stroke-width="0.7"/>
<path d="M301.6 203 Q309 204.2 316.8 202.6 Q315.6 216.38 316.6 230.15 Q309 228.55 302 230.35 Q303.2 216.38 301.6 203 Z" fill="#fff" stroke="#000" stroke-width="1.2" stroke-linejoin="round"/>
<path d="M303.6 227.75 l2.4 -4.6 M305.2 224.95 l-1.6 -4" fill="none" stroke="#000" stroke-width="1" />
<path d="M301.6 235.15 Q309 236.35 316.8 234.75 Q315.6 248.53 316.6 262.3 Q309 260.7 302 262.5 Q303.2 248.53 301.6 235.15 Z" fill="#fff" stroke="#000" stroke-width="1.2" stroke-linejoin="round"/>
<path d="M303.6 259.9 l2.4 -4.6 M305.2 257.1 l-1.6 -4" fill="none" stroke="#000" stroke-width="1" />
<path d="M317.84 197.96 C318.02 194.58 319.95 195.77 321.42 195.06 C322.89 194.35 324.93 193.77 326.68 193.71 C328.44 193.64 330.19 194.67 331.94 194.67 C333.7 194.67 335.45 193.64 337.2 193.71 C338.96 193.77 341.06 194.35 342.46 195.06 C343.87 195.77 344.57 196.51 345.62 197.96 C346.67 199.41 348 201.18 348.78 203.76 C349.55 206.33 349.9 209.23 350.25 213.42 C350.6 217.61 350.88 224.37 350.88 228.88 C350.88 233.39 350.77 237.25 350.25 240.48 C349.72 243.7 348.67 245.95 347.72 248.21 C346.78 250.46 345.44 252.39 344.57 254 C343.69 255.61 343.16 256.58 342.46 257.87 C341.76 259.16 340.53 260.28 340.36 261.73 C340.18 263.18 341.76 265.28 341.41 266.57 C341.06 267.85 339.31 269.3 338.25 269.46 C337.2 269.63 335.8 268.34 335.1 267.53 C334.4 266.73 334.75 264.63 334.05 264.63 C333.34 264.63 332.12 267.21 330.89 267.53 C329.66 267.85 328.26 266.57 326.68 266.57 C325.1 266.57 322.65 267.85 321.42 267.53 C320.19 267.21 319.49 266.57 319.32 264.63 C319.14 262.7 320.02 258.67 320.37 255.94 C320.72 253.2 321.07 252.07 321.42 248.21 C321.77 244.34 322.65 238.22 322.47 232.75 C322.3 227.27 321.14 221.15 320.37 215.35 C319.6 209.55 317.67 201.34 317.84 197.96 Z" fill="#fff" stroke="#000" stroke-width="1.3" stroke-linejoin="round"/>
<path d="M342.46 195.06 C342.6 196.19 343.66 199.73 343.3 201.82 C342.95 203.92 340.32 205.05 340.36 207.62 C340.39 210.2 342.64 213.74 343.51 217.28 C344.39 220.83 345.27 225.02 345.62 228.88 C345.97 232.75 346.14 237.25 345.62 240.48 C345.09 243.7 343.51 245.95 342.46 248.21 C341.41 250.46 340.01 252.39 339.31 254 C338.61 255.61 338.08 256.58 338.25 257.87 C338.43 259.16 340.01 261.09 340.36 261.73" fill="none" stroke="#000" stroke-width="1.1" />
<path d="M331.94 207.62 C332.64 207.82 334.75 208.78 336.15 208.78 C337.55 208.78 339.66 207.82 340.36 207.62" fill="none" stroke="#000" stroke-width="1.1" />
<path d="M326.68 193.71 C326.89 194.74 327.94 197.83 327.94 199.89 C327.94 201.95 326.89 205.05 326.68 206.08" fill="none" stroke="#000" stroke-width="1.1" />
<path d="M334.05 264.63 C333.87 263.83 332.96 261.25 332.99 259.8 C333.03 258.35 334.05 256.58 334.26 255.94" fill="none" stroke="#000" stroke-width="1.1" />
<path d="M322.47 232.75 C322.68 230.49 323.81 224.37 323.74 219.22 C323.67 214.06 322.33 204.72 322.05 201.82" fill="none" stroke="#000" stroke-width="1.1" />
<path d="M358.87 197.96 C359.05 199.09 359.82 202.79 359.93 204.72 C360.03 206.66 359.58 208.75 359.51 209.55" fill="none" stroke="#000" stroke-width="1.1" />
<path d="M366.24 197.96 C366.45 198.76 367.33 201.24 367.51 202.79 C367.68 204.34 367.33 206.49 367.3 207.24" fill="none" stroke="#000" stroke-width="1.1" />
<path d="M378.03 197.96 C377.86 198.93 377.23 201.99 376.98 203.76 C376.73 205.53 376.63 207.78 376.56 208.59" fill="none" stroke="#000" stroke-width="1.1" />
<path d="M381.19 197.96 C381.12 199.25 380.98 203.43 380.77 205.69 C380.56 207.94 380.07 210.52 379.93 211.49" fill="none" stroke="#000" stroke-width="1.1" />
<path d="M358.87 265.21 C359.01 263.99 359.65 260.06 359.72 257.87 C359.79 255.68 359.37 253.04 359.3 252.07" fill="none" stroke="#000" stroke-width="1.1" />
<path d="M365.19 265.21 C365.4 264.15 366.1 260.7 366.45 258.83 C366.8 256.97 367.16 254.81 367.3 254" fill="none" stroke="#000" stroke-width="1.1" />
<path d="M376.35 265.21 C376.52 263.99 377.16 259.99 377.4 257.87 C377.65 255.74 377.75 253.36 377.82 252.46" fill="none" stroke="#000" stroke-width="1.1" />
<path d="M380.98 265.21 C381.12 264.47 381.65 262.15 381.82 260.77 C382 259.38 382 257.55 382.03 256.9" fill="none" stroke="#000" stroke-width="1.1" />
<path d="M384.6 265.2 l3 -3" fill="none" stroke="#111" stroke-width="0.8" />
<path d="M384.6 197.4 l3 3" fill="none" stroke="#111" stroke-width="0.8" />
<rect x="441" y="197" width="89" height="68.6" fill="none" stroke="#111" stroke-width="1.2"/>
<line x1="442.9" y1="197" x2="442.9" y2="265.6" stroke="#333" stroke-width="0.7"/>
<path d="M443.6 203 Q451 204.2 458.8 202.6 Q457.6 216.38 458.6 230.15 Q451 228.55 444 230.35 Q445.2 216.38 443.6 203 Z" fill="#fff" stroke="#000" stroke-width="1.2" stroke-linejoin="round"/>
<path d="M445.6 227.75 l2.4 -4.6 M447.2 224.95 l-1.6 -4" fill="none" stroke="#000" stroke-width="1" />
<path d="M443.6 235.15 Q451 236.35 458.8 234.75 Q457.6 248.53 458.6 262.3 Q451 260.7 444 262.5 Q445.2 248.53 443.6 235.15 Z" fill="#fff" stroke="#000" stroke-width="1.2" stroke-linejoin="round"/>
<path d="M445.6 259.9 l2.4 -4.6 M447.2 257.1 l-1.6 -4" fill="none" stroke="#000" stroke-width="1" />
<path d="M459.84 197.96 C460.02 194.58 461.95 195.77 463.42 195.06 C464.89 194.35 466.93 193.77 468.68 193.71 C470.44 193.64 472.19 194.67 473.94 194.67 C475.7 194.67 477.45 193.64 479.2 193.71 C480.96 193.77 483.06 194.35 484.46 195.06 C485.87 195.77 486.57 196.51 487.62 197.96 C488.67 199.41 490 201.18 490.78 203.76 C491.55 206.33 491.9 209.23 492.25 213.42 C492.6 217.61 492.88 224.37 492.88 228.88 C492.88 233.39 492.77 237.25 492.25 240.48 C491.72 243.7 490.67 245.95 489.72 248.21 C488.78 250.46 487.44 252.39 486.57 254 C485.69 255.61 485.16 256.58 484.46 257.87 C483.76 259.16 482.53 260.28 482.36 261.73 C482.18 263.18 483.76 265.28 483.41 266.57 C483.06 267.85 481.31 269.3 480.25 269.46 C479.2 269.63 477.8 268.34 477.1 267.53 C476.4 266.73 476.75 264.63 476.05 264.63 C475.34 264.63 474.12 267.21 472.89 267.53 C471.66 267.85 470.26 266.57 468.68 266.57 C467.1 266.57 464.65 267.85 463.42 267.53 C462.19 267.21 461.49 266.57 461.32 264.63 C461.14 262.7 462.02 258.67 462.37 255.94 C462.72 253.2 463.07 252.07 463.42 248.21 C463.77 244.34 464.65 238.22 464.47 232.75 C464.3 227.27 463.14 221.15 462.37 215.35 C461.6 209.55 459.67 201.34 459.84 197.96 Z" fill="#fff" stroke="#000" stroke-width="1.3" stroke-linejoin="round"/>
<path d="M484.46 195.06 C484.6 196.19 485.66 199.73 485.3 201.82 C484.95 203.92 482.32 205.05 482.36 207.62 C482.39 210.2 484.64 213.74 485.51 217.28 C486.39 220.83 487.27 225.02 487.62 228.88 C487.97 232.75 488.14 237.25 487.62 240.48 C487.09 243.7 485.51 245.95 484.46 248.21 C483.41 250.46 482.01 252.39 481.31 254 C480.61 255.61 480.08 256.58 480.25 257.87 C480.43 259.16 482.01 261.09 482.36 261.73" fill="none" stroke="#000" stroke-width="1.1" />
<path d="M473.94 207.62 C474.64 207.82 476.75 208.78 478.15 208.78 C479.55 208.78 481.66 207.82 482.36 207.62" fill="none" stroke="#000" stroke-width="1.1" />
<path d="M468.68 193.71 C468.89 194.74 469.94 197.83 469.94 199.89 C469.94 201.95 468.89 205.05 468.68 206.08" fill="none" stroke="#000" stroke-width="1.1" />
<path d="M476.05 264.63 C475.87 263.83 474.96 261.25 474.99 259.8 C475.03 258.35 476.05 256.58 476.26 255.94" fill="none" stroke="#000" stroke-width="1.1" />
<path d="M464.47 232.75 C464.68 230.49 465.81 224.37 465.74 219.22 C465.67 214.06 464.33 204.72 464.05 201.82" fill="none" stroke="#000" stroke-width="1.1" />
<path d="M500.87 197.96 C501.05 199.09 501.82 202.79 501.93 204.72 C502.03 206.66 501.58 208.75 501.51 209.55" fill="none" stroke="#000" stroke-width="1.1" />
<path d="M508.24 197.96 C508.45 198.76 509.33 201.24 509.51 202.79 C509.68 204.34 509.33 206.49 509.3 207.24" fill="none" stroke="#000" stroke-width="1.1" />
<path d="M520.03 197.96 C519.86 198.93 519.23 201.99 518.98 203.76 C518.73 205.53 518.63 207.78 518.56 208.59" fill="none" stroke="#000" stroke-width="1.1" />
<path d="M523.19 197.96 C523.12 199.25 522.98 203.43 522.77 205.69 C522.56 207.94 522.07 210.52 521.93 211.49" fill="none" stroke="#000" stroke-width="1.1" />
<path d="M500.87 265.21 C501.01 263.99 501.65 260.06 501.72 257.87 C501.79 255.68 501.37 253.04 501.3 252.07" fill="none" stroke="#000" stroke-width="1.1" />
<path d="M507.19 265.21 C507.4 264.15 508.1 260.7 508.45 258.83 C508.8 256.97 509.16 254.81 509.3 254" fill="none" stroke="#000" stroke-width="1.1" />
<path d="M518.35 265.21 C518.52 263.99 519.16 259.99 519.4 257.87 C519.65 255.74 519.75 253.36 519.82 252.46" fill="none" stroke="#000" stroke-width="1.1" />
<path d="M522.98 265.21 C523.12 264.47 523.65 262.15 523.82 260.77 C524 259.38 524 257.55 524.03 256.9" fill="none" stroke="#000" stroke-width="1.1" />
<path d="M526.6 265.2 l3 -3" fill="none" stroke="#111" stroke-width="0.8" />
<path d="M526.6 197.4 l3 3" fill="none" stroke="#111" stroke-width="0.8" />
<rect x="586" y="215.6" width="90" height="77" fill="none" stroke="#111" stroke-width="1.2"/>
<line x1="587.9" y1="215.6" x2="587.9" y2="292.6" stroke="#333" stroke-width="0.7"/>
<path d="M588.6 221.6 Q596 222.8 603.8 221.2 Q602.6 237.07 603.6 252.95 Q596 251.35 589 253.15 Q590.2 237.07 588.6 221.6 Z" fill="#fff" stroke="#000" stroke-width="1.2" stroke-linejoin="round"/>
<path d="M590.6 250.55 l2.4 -4.6 M592.2 247.75 l-1.6 -4" fill="none" stroke="#000" stroke-width="1" />
<path d="M588.6 257.95 Q596 259.15 603.8 257.55 Q602.6 273.43 603.6 289.3 Q596 287.7 589 289.5 Q590.2 273.43 588.6 257.95 Z" fill="#fff" stroke="#000" stroke-width="1.2" stroke-linejoin="round"/>
<path d="M590.6 286.9 l2.4 -4.6 M592.2 284.1 l-1.6 -4" fill="none" stroke="#000" stroke-width="1" />
<path d="M605.43 216.68 C605.61 212.88 607.6 214.22 609.11 213.42 C610.63 212.63 612.73 211.98 614.54 211.9 C616.35 211.83 618.15 212.99 619.96 212.99 C621.77 212.99 623.58 211.83 625.38 211.9 C627.19 211.98 629.36 212.63 630.81 213.42 C632.25 214.22 632.98 215.05 634.06 216.68 C635.15 218.3 636.52 220.29 637.31 223.18 C638.11 226.08 638.47 229.33 638.83 234.03 C639.19 238.73 639.48 246.32 639.48 251.38 C639.48 256.45 639.38 260.78 638.83 264.4 C638.29 268.01 637.21 270.55 636.23 273.08 C635.25 275.61 633.88 277.78 632.98 279.58 C632.07 281.39 631.53 282.48 630.81 283.92 C630.08 285.37 628.82 286.63 628.64 288.26 C628.46 289.89 630.08 292.24 629.72 293.68 C629.36 295.13 627.55 296.76 626.47 296.94 C625.38 297.12 623.94 295.67 623.21 294.77 C622.49 293.86 622.85 291.51 622.13 291.51 C621.41 291.51 620.14 294.41 618.88 294.77 C617.61 295.13 616.16 293.68 614.54 293.68 C612.91 293.68 610.38 295.13 609.11 294.77 C607.85 294.41 607.13 293.68 606.95 291.51 C606.77 289.34 607.67 284.83 608.03 281.75 C608.39 278.68 608.75 277.41 609.11 273.08 C609.48 268.74 610.38 261.87 610.2 255.72 C610.02 249.58 608.83 242.71 608.03 236.2 C607.23 229.69 605.25 220.47 605.43 216.68 Z" fill="#fff" stroke="#000" stroke-width="1.3" stroke-linejoin="round"/>
<path d="M630.81 213.42 C630.95 214.69 632.04 218.67 631.67 221.02 C631.31 223.37 628.6 224.63 628.64 227.52 C628.67 230.42 630.99 234.39 631.89 238.37 C632.8 242.35 633.7 247.05 634.06 251.38 C634.42 255.72 634.6 260.78 634.06 264.4 C633.52 268.01 631.89 270.55 630.81 273.08 C629.72 275.61 628.28 277.78 627.55 279.58 C626.83 281.39 626.29 282.48 626.47 283.92 C626.65 285.37 628.28 287.54 628.64 288.26" fill="none" stroke="#000" stroke-width="1.1" />
<path d="M619.96 227.52 C620.68 227.74 622.85 228.82 624.3 228.82 C625.75 228.82 627.91 227.74 628.64 227.52" fill="none" stroke="#000" stroke-width="1.1" />
<path d="M614.54 211.9 C614.75 213.06 615.84 216.53 615.84 218.85 C615.84 221.16 614.75 224.63 614.54 225.79" fill="none" stroke="#000" stroke-width="1.1" />
<path d="M622.13 291.51 C621.95 290.61 621.01 287.72 621.05 286.09 C621.08 284.46 622.13 282.48 622.35 281.75" fill="none" stroke="#000" stroke-width="1.1" />
<path d="M610.2 255.72 C610.42 253.19 611.57 246.32 611.5 240.54 C611.43 234.75 610.05 224.27 609.77 221.02" fill="none" stroke="#000" stroke-width="1.1" />
<path d="M645.99 216.68 C646.17 217.94 646.97 222.1 647.08 224.27 C647.18 226.44 646.71 228.79 646.64 229.69" fill="none" stroke="#000" stroke-width="1.1" />
<path d="M653.58 216.68 C653.8 217.58 654.7 220.36 654.89 222.1 C655.07 223.84 654.7 226.26 654.67 227.09" fill="none" stroke="#000" stroke-width="1.1" />
<path d="M665.73 216.68 C665.55 217.76 664.9 221.2 664.65 223.18 C664.39 225.17 664.28 227.7 664.21 228.61" fill="none" stroke="#000" stroke-width="1.1" />
<path d="M668.98 216.68 C668.91 218.12 668.77 222.82 668.55 225.35 C668.33 227.88 667.83 230.78 667.68 231.86" fill="none" stroke="#000" stroke-width="1.1" />
<path d="M645.99 292.16 C646.14 290.79 646.79 286.38 646.86 283.92 C646.93 281.46 646.5 278.5 646.43 277.41" fill="none" stroke="#000" stroke-width="1.1" />
<path d="M652.5 292.16 C652.72 290.97 653.44 287.1 653.8 285.01 C654.16 282.91 654.52 280.49 654.67 279.58" fill="none" stroke="#000" stroke-width="1.1" />
<path d="M664 292.16 C664.18 290.79 664.83 286.31 665.08 283.92 C665.33 281.54 665.44 278.86 665.51 277.85" fill="none" stroke="#000" stroke-width="1.1" />
<path d="M668.77 292.16 C668.91 291.33 669.45 288.73 669.64 287.18 C669.82 285.62 669.82 283.56 669.85 282.84" fill="none" stroke="#000" stroke-width="1.1" />
<path d="M672.6 292.2 l3 -3" fill="none" stroke="#111" stroke-width="0.8" />
<path d="M672.6 216 l3 3" fill="none" stroke="#111" stroke-width="0.8" />
<rect x="298.4" y="312.4" width="55.6" height="17.4" fill="none" stroke="#333" stroke-width="0.8"/>
<rect x="306.6" y="314.2" width="16.2" height="14" fill="none" stroke="#222" stroke-width="1" rx="3"/>
<rect x="308.2" y="315.6" width="13" height="11.2" fill="none" stroke="#555" stroke-width="0.6" rx="2.4"/>
<line x1="314.7" y1="314.2" x2="314.7" y2="317.4" stroke="#222" stroke-width="1.2"/>
<rect x="330.2" y="314.2" width="16.2" height="14" fill="none" stroke="#222" stroke-width="1" rx="3"/>
<rect x="331.8" y="315.6" width="13" height="11.2" fill="none" stroke="#555" stroke-width="0.6" rx="2.4"/>
<line x1="338.3" y1="314.2" x2="338.3" y2="317.4" stroke="#222" stroke-width="1.2"/>
<rect x="298.4" y="372" width="30" height="26" fill="none" stroke="#111" stroke-width="0.9"/>
<circle cx="310.8" cy="385" r="6" fill="none" stroke="#111" stroke-width="1"/>
<line x1="310.8" y1="385" x2="310.8" y2="379" stroke="#111" stroke-width="0.9"/>
<line x1="310.8" y1="385" x2="305.6" y2="388" stroke="#111" stroke-width="0.9"/>
<line x1="310.8" y1="385" x2="316" y2="388" stroke="#111" stroke-width="0.9"/>
<path d="M335.6 398 L335.6 383.8 C335.6 377 338.8 374.2 343 374.2 C347.2 374.2 350.4 377 350.4 383.8 L350.4 398" fill="#fff" stroke="#111" stroke-width="1.2" />
<ellipse cx="343" cy="384.2" rx="5.7" ry="8" fill="none" stroke="#111" stroke-width="0.9"/>
<ellipse cx="343" cy="384.4" rx="4.3" ry="6.6" fill="none" stroke="#333" stroke-width="0.7"/>
<path d="M341 387.4 v-3 a2 2.4 0 0 1 4 0 v3 Z" fill="none" stroke="#222" stroke-width="0.9" />
<circle cx="338.4" cy="393.2" r="0.5" fill="#111" stroke="#111" stroke-width="0.4"/>
<circle cx="347.6" cy="393.2" r="0.5" fill="#111" stroke="#111" stroke-width="0.4"/>
<path d="M686 398 L686 383.8 C686 377 689.2 374.2 693.4 374.2 C697.6 374.2 700.8 377 700.8 383.8 L700.8 398" fill="#fff" stroke="#111" stroke-width="1.2" />
<ellipse cx="693.4" cy="384.2" rx="5.7" ry="8" fill="none" stroke="#111" stroke-width="0.9"/>
<ellipse cx="693.4" cy="384.4" rx="4.3" ry="6.6" fill="none" stroke="#333" stroke-width="0.7"/>
<path d="M691.4 387.4 v-3 a2 2.4 0 0 1 4 0 v3 Z" fill="none" stroke="#222" stroke-width="0.9" />
<circle cx="688.8" cy="393.2" r="0.5" fill="#111" stroke="#111" stroke-width="0.4"/>
<circle cx="698" cy="393.2" r="0.5" fill="#111" stroke="#111" stroke-width="0.4"/>
<rect x="362.2" y="360.2" width="51.1" height="37.8" fill="none" stroke="#111" stroke-width="1.2"/>
<line x1="364.4" y1="362.4" x2="413.3" y2="362.4" stroke="#333" stroke-width="0.7"/>
<line x1="364.4" y1="362.4" x2="364.4" y2="398" stroke="#333" stroke-width="0.7"/>
<circle cx="395.4" cy="378.2" r="4.3" fill="none" stroke="#111" stroke-width="0.9"/>
<line x1="395.4" y1="382.8" x2="395.4" y2="398" stroke="#333" stroke-width="2" stroke-dasharray="1.3 1.3"/>
<circle cx="628.4" cy="379.6" r="4.1" fill="none" stroke="#111" stroke-width="0.9"/>
<line x1="609.4" y1="379.6" x2="624" y2="379.6" stroke="#333" stroke-width="2" stroke-dasharray="1.3 1.3"/>
<rect x="689" y="340" width="34.2" height="17.4" fill="none" stroke="#333" stroke-width="0.8"/>
<rect x="698" y="342.2" width="15.8" height="12.4" fill="none" stroke="#222" stroke-width="1" rx="2.6"/>
<rect x="699.6" y="343.6" width="12.6" height="9.6" fill="none" stroke="#555" stroke-width="0.6" rx="2"/>
<line x1="705.9" y1="342.2" x2="705.9" y2="346.4" stroke="#222" stroke-width="1.2"/>
<line x1="281.5" y1="322.1" x2="846.8" y2="322.1" stroke="#8a8a8a" stroke-width="0.8"/>
<line x1="287.9" y1="315.8" x2="287.9" y2="328.4" stroke="#222" stroke-width="0.9"/>
<line x1="281.6" y1="322.1" x2="294.2" y2="322.1" stroke="#444" stroke-width="1"/>
<line x1="298.6" y1="315.8" x2="298.6" y2="328.4" stroke="#222" stroke-width="0.9"/>
<line x1="292.3" y1="322.1" x2="304.9" y2="322.1" stroke="#444" stroke-width="1"/>
<line x1="394.2" y1="315.8" x2="394.2" y2="328.4" stroke="#222" stroke-width="0.9"/>
<line x1="387.9" y1="322.1" x2="400.5" y2="322.1" stroke="#444" stroke-width="1"/>
<line x1="398.4" y1="315.8" x2="398.4" y2="328.4" stroke="#222" stroke-width="0.9"/>
<line x1="392.1" y1="322.1" x2="404.7" y2="322.1" stroke="#444" stroke-width="1"/>
<line x1="413.3" y1="315.8" x2="413.3" y2="328.4" stroke="#222" stroke-width="0.9"/>
<line x1="407" y1="322.1" x2="419.6" y2="322.1" stroke="#444" stroke-width="1"/>
<line x1="417.5" y1="315.8" x2="417.5" y2="328.4" stroke="#222" stroke-width="0.9"/>
<line x1="411.2" y1="322.1" x2="423.8" y2="322.1" stroke="#444" stroke-width="1"/>
<line x1="604.9" y1="315.8" x2="604.9" y2="328.4" stroke="#222" stroke-width="0.9"/>
<line x1="598.6" y1="322.1" x2="611.2" y2="322.1" stroke="#444" stroke-width="1"/>
<line x1="609.2" y1="315.8" x2="609.2" y2="328.4" stroke="#222" stroke-width="0.9"/>
<line x1="602.9" y1="322.1" x2="615.5" y2="322.1" stroke="#444" stroke-width="1"/>
<line x1="647.4" y1="315.8" x2="647.4" y2="328.4" stroke="#222" stroke-width="0.9"/>
<line x1="641.1" y1="322.1" x2="653.7" y2="322.1" stroke="#444" stroke-width="1"/>
<line x1="651.7" y1="315.8" x2="651.7" y2="328.4" stroke="#222" stroke-width="0.9"/>
<line x1="645.4" y1="322.1" x2="658" y2="322.1" stroke="#444" stroke-width="1"/>
<line x1="723.9" y1="315.8" x2="723.9" y2="328.4" stroke="#222" stroke-width="0.9"/>
<line x1="717.6" y1="322.1" x2="730.2" y2="322.1" stroke="#444" stroke-width="1"/>
<line x1="734.5" y1="315.8" x2="734.5" y2="328.4" stroke="#222" stroke-width="0.9"/>
<line x1="728.2" y1="322.1" x2="740.8" y2="322.1" stroke="#444" stroke-width="1"/>
<line x1="840.3" y1="315.8" x2="840.3" y2="328.4" stroke="#222" stroke-width="0.9"/>
<line x1="834" y1="322.1" x2="846.6" y2="322.1" stroke="#444" stroke-width="1"/>
<text transform="translate(293.2 320.5) scale(0.625 1)" font-size="17" font-weight="bold" text-anchor="middle" fill="#000" stroke="#000" stroke-width="0.35">25</text>
<text transform="translate(346.4 320.5) scale(0.625 1)" font-size="17" font-weight="bold" text-anchor="middle" fill="#000" stroke="#000" stroke-width="0.35">225</text>
<text transform="translate(396.3 320.5) scale(0.625 1)" font-size="17" font-weight="bold" text-anchor="middle" fill="#000" stroke="#000" stroke-width="0.35">10</text>
<text transform="translate(405.8 320.5) scale(0.625 1)" font-size="17" font-weight="bold" text-anchor="middle" fill="#000" stroke="#000" stroke-width="0.35">35</text>
<text transform="translate(415.4 320.5) scale(0.625 1)" font-size="17" font-weight="bold" text-anchor="middle" fill="#000" stroke="#000" stroke-width="0.35">10</text>
<text transform="translate(511.2 320.5) scale(0.625 1)" font-size="17" font-weight="bold" text-anchor="middle" fill="#000" stroke="#000" stroke-width="0.35">441</text>
<text transform="translate(607 320.5) scale(0.625 1)" font-size="17" font-weight="bold" text-anchor="middle" fill="#000" stroke="#000" stroke-width="0.35">10</text>
<text transform="translate(628.3 320.5) scale(0.625 1)" font-size="17" font-weight="bold" text-anchor="middle" fill="#000" stroke="#000" stroke-width="0.35">90</text>
<text transform="translate(649.5 320.5) scale(0.625 1)" font-size="17" font-weight="bold" text-anchor="middle" fill="#000" stroke="#000" stroke-width="0.35">10</text>
<text transform="translate(687.8 320.5) scale(0.625 1)" font-size="17" font-weight="bold" text-anchor="middle" fill="#000" stroke="#000" stroke-width="0.35">170</text>
<text transform="translate(729.2 320.5) scale(0.625 1)" font-size="17" font-weight="bold" text-anchor="middle" fill="#000" stroke="#000" stroke-width="0.35">25</text>
<text transform="translate(787.4 320.5) scale(0.625 1)" font-size="17" font-weight="bold" text-anchor="middle" fill="#000" stroke="#000" stroke-width="0.35">250</text>
<line x1="328.6" y1="152" x2="328.6" y2="415" stroke="#8a8a8a" stroke-width="0.8"/>
<line x1="322.3" y1="162" x2="334.9" y2="162" stroke="#222" stroke-width="0.9"/>
<line x1="328.6" y1="155.7" x2="328.6" y2="168.3" stroke="#333" stroke-width="1"/>
<line x1="322.3" y1="172.6" x2="334.9" y2="172.6" stroke="#222" stroke-width="0.9"/>
<line x1="328.6" y1="166.3" x2="328.6" y2="178.9" stroke="#333" stroke-width="1"/>
<line x1="322.3" y1="308.6" x2="334.9" y2="308.6" stroke="#222" stroke-width="0.9"/>
<line x1="328.6" y1="302.3" x2="328.6" y2="314.9" stroke="#333" stroke-width="1"/>
<line x1="322.3" y1="312.8" x2="334.9" y2="312.8" stroke="#222" stroke-width="0.9"/>
<line x1="328.6" y1="306.5" x2="328.6" y2="319.1" stroke="#333" stroke-width="1"/>
<line x1="322.3" y1="355.3" x2="334.9" y2="355.3" stroke="#222" stroke-width="0.9"/>
<line x1="328.6" y1="349" x2="328.6" y2="361.6" stroke="#333" stroke-width="1"/>
<line x1="322.3" y1="359.6" x2="334.9" y2="359.6" stroke="#222" stroke-width="0.9"/>
<line x1="328.6" y1="353.3" x2="328.6" y2="365.9" stroke="#333" stroke-width="1"/>
<line x1="322.3" y1="397.8" x2="334.9" y2="397.8" stroke="#222" stroke-width="0.9"/>
<line x1="328.6" y1="391.5" x2="328.6" y2="404.1" stroke="#333" stroke-width="1"/>
<line x1="322.3" y1="408.4" x2="334.9" y2="408.4" stroke="#222" stroke-width="0.9"/>
<line x1="328.6" y1="402.1" x2="328.6" y2="414.7" stroke="#333" stroke-width="1"/>
<text transform="translate(327 167.3) rotate(-90) scale(0.625 1)" font-size="17" font-weight="bold" text-anchor="middle" fill="#000" stroke="#000" stroke-width="0.35">25</text>
<text transform="translate(327 240.6) rotate(-90) scale(0.625 1)" font-size="17" font-weight="bold" text-anchor="middle" fill="#000" stroke="#000" stroke-width="0.35">320</text>
<text transform="translate(327 310.7) rotate(-90) scale(0.625 1)" font-size="17" font-weight="bold" text-anchor="middle" fill="#000" stroke="#000" stroke-width="0.35">10</text>
<text transform="translate(327 334) rotate(-90) scale(0.625 1)" font-size="17" font-weight="bold" text-anchor="middle" fill="#000" stroke="#000" stroke-width="0.35">100</text>
<text transform="translate(327 355.2) rotate(-90) scale(0.625 1)" font-size="17" font-weight="bold" text-anchor="middle" fill="#000" stroke="#000" stroke-width="0.35">10</text>
<text transform="translate(327 378.2) rotate(-90) scale(0.625 1)" font-size="17" font-weight="bold" text-anchor="middle" fill="#000" stroke="#000" stroke-width="0.35">90</text>
<text transform="translate(327 403.1) rotate(-90) scale(0.625 1)" font-size="17" font-weight="bold" text-anchor="middle" fill="#000" stroke="#000" stroke-width="0.35">25</text>
<circle cx="217" cy="364" r="6.3" fill="#fff" stroke="#000" stroke-width="1"/>
<path d="M217 364 L217 357.7 A6.3 6.3 0 0 1 223.3 364 Z" fill="#000" stroke="#000" stroke-width="0.3" />
<path d="M217 364 L217 370.3 A6.3 6.3 0 0 1 210.7 364 Z" fill="#000" stroke="#000" stroke-width="0.3" />
<line x1="208" y1="364" x2="251.6" y2="364" stroke="#222" stroke-width="0.8"/>
<line x1="217" y1="355" x2="217" y2="373" stroke="#222" stroke-width="0.8"/>
<text transform="translate(225.6 374.6) scale(0.73 1)" font-size="14.4" font-weight="bold" text-anchor="start" fill="#000" stroke="#000" stroke-width="0.35">+3,10</text>
<circle cx="544" cy="329" r="6.3" fill="#fff" stroke="#000" stroke-width="1"/>
<path d="M544 329 L544 322.7 A6.3 6.3 0 0 1 550.3 329 Z" fill="#000" stroke="#000" stroke-width="0.3" />
<path d="M544 329 L544 335.3 A6.3 6.3 0 0 1 537.7 329 Z" fill="#000" stroke="#000" stroke-width="0.3" />
<line x1="535" y1="329" x2="579" y2="329" stroke="#222" stroke-width="0.8"/>
<line x1="544" y1="320" x2="544" y2="338" stroke="#222" stroke-width="0.8"/>
<text transform="translate(552 326.6) scale(0.73 1)" font-size="14.4" font-weight="bold" text-anchor="start" fill="#000" stroke="#000" stroke-width="0.35">+3,10</text>
<circle cx="774.2" cy="346.6" r="6.3" fill="#fff" stroke="#000" stroke-width="1"/>
<path d="M774.2 346.6 L774.2 340.3 A6.3 6.3 0 0 1 780.5 346.6 Z" fill="#000" stroke="#000" stroke-width="0.3" />
<path d="M774.2 346.6 L774.2 352.9 A6.3 6.3 0 0 1 767.9 346.6 Z" fill="#000" stroke="#000" stroke-width="0.3" />
<line x1="765.2" y1="346.6" x2="808.4" y2="346.6" stroke="#222" stroke-width="0.8"/>
<line x1="774.2" y1="337.6" x2="774.2" y2="355.6" stroke="#222" stroke-width="0.8"/>
<text transform="translate(782.6 344.4) scale(0.73 1)" font-size="14.4" font-weight="bold" text-anchor="start" fill="#000" stroke="#000" stroke-width="0.35">+3,10</text>
<line x1="367" y1="137" x2="367" y2="185" stroke="#222" stroke-width="0.8"/>
<circle cx="367" cy="187" r="2" fill="none" stroke="#111" stroke-width="1"/>
<text x="365.4" y="156" font-size="6.6" text-anchor="start" fill="#222" stroke="#222" stroke-width="0.18" transform="rotate(-90 365.4 156)">140</text>
<text x="374.6" y="150.4" font-size="6.6" text-anchor="start" fill="#222" stroke="#222" stroke-width="0.18" transform="rotate(-90 374.6 150.4)">120+30</text>
<text x="370.2" y="180.6" font-size="6.6" text-anchor="start" fill="#222" stroke="#222" stroke-width="0.18">100</text>
<line x1="528.6" y1="137" x2="528.6" y2="185" stroke="#222" stroke-width="0.8"/>
<circle cx="528.6" cy="187" r="2" fill="none" stroke="#111" stroke-width="1"/>
<text x="527" y="156" font-size="6.6" text-anchor="start" fill="#222" stroke="#222" stroke-width="0.18" transform="rotate(-90 527 156)">140</text>
<text x="536.2" y="150.4" font-size="6.6" text-anchor="start" fill="#222" stroke="#222" stroke-width="0.18" transform="rotate(-90 536.2 150.4)">120+30</text>
<text x="531.8" y="180.6" font-size="6.6" text-anchor="start" fill="#222" stroke="#222" stroke-width="0.18">100</text>
<line x1="417.4" y1="284" x2="417.4" y2="333.6" stroke="#222" stroke-width="0.8"/>
<circle cx="417.4" cy="333.6" r="2" fill="none" stroke="#111" stroke-width="1"/>
<text x="415.8" y="284.4" font-size="6.6" text-anchor="end" fill="#222" stroke="#222" stroke-width="0.18" transform="rotate(-90 415.8 284.4)">90</text>
<text x="424.2" y="284.4" font-size="6.6" text-anchor="end" fill="#222" stroke="#222" stroke-width="0.18" transform="rotate(-90 424.2 284.4)">200</text>
<line x1="378" y1="333.6" x2="427" y2="333.6" stroke="#222" stroke-width="0.8"/>
<circle cx="427" cy="333.8" r="2" fill="none" stroke="#111" stroke-width="1"/>
<text x="378" y="331.6" font-size="6.6" text-anchor="start" fill="#222" stroke="#222" stroke-width="0.18">200</text>
<text x="378" y="340.2" font-size="6.6" text-anchor="start" fill="#222" stroke="#222" stroke-width="0.18">70</text>
<line x1="561.4" y1="284" x2="561.4" y2="333.4" stroke="#222" stroke-width="0.8"/>
<circle cx="561.4" cy="333.4" r="2" fill="none" stroke="#111" stroke-width="1"/>
<text x="559.8" y="284.4" font-size="6.6" text-anchor="end" fill="#222" stroke="#222" stroke-width="0.18" transform="rotate(-90 559.8 284.4)">90</text>
<text x="568.2" y="284.4" font-size="6.6" text-anchor="end" fill="#222" stroke="#222" stroke-width="0.18" transform="rotate(-90 568.2 284.4)">200</text>
<line x1="583.6" y1="332.2" x2="634" y2="332.2" stroke="#222" stroke-width="0.8"/>
<circle cx="583.6" cy="331.8" r="2" fill="none" stroke="#111" stroke-width="1"/>
<text x="622.4" y="330.2" font-size="6.6" text-anchor="start" fill="#222" stroke="#222" stroke-width="0.18">200</text>
<text x="624.4" y="338.6" font-size="6.6" text-anchor="start" fill="#222" stroke="#222" stroke-width="0.18">90</text>
<line x1="667.8" y1="307.4" x2="667.8" y2="356.6" stroke="#222" stroke-width="0.8"/>
<circle cx="667.8" cy="307.2" r="2" fill="none" stroke="#111" stroke-width="1"/>
<text x="661" y="345" font-size="6.6" text-anchor="start" fill="#222" stroke="#222" stroke-width="0.18" transform="rotate(90 661 345)">200</text>
<text x="670.4" y="349.4" font-size="6.6" text-anchor="start" fill="#222" stroke="#222" stroke-width="0.18" transform="rotate(90 670.4 349.4)">70</text>
<line x1="708.6" y1="285" x2="771.5" y2="285" stroke="#222" stroke-width="0.8"/>
<circle cx="708.6" cy="285" r="2" fill="none" stroke="#111" stroke-width="1"/>
<text x="746" y="283.4" font-size="6.6" text-anchor="start" fill="#222" stroke="#222" stroke-width="0.18">220+30</text>
<text x="751" y="292.4" font-size="6.6" text-anchor="start" fill="#222" stroke="#222" stroke-width="0.18">240</text>
<path d="M679 208.4 L686 220 L703.6 220" fill="none" stroke="#111" stroke-width="0.8" />
<text transform="translate(683 227) scale(0.7 1)" font-size="6.8" font-weight="normal" text-anchor="start" fill="#111" stroke="#111" stroke-width="0.35">STROP</text>
<text transform="translate(683 233.8) scale(0.9 1)" font-size="6.8" font-weight="normal" text-anchor="start" fill="#111" stroke="#111" stroke-width="0.35">– EPS 8cm</text>
<text transform="translate(550.6 386.2) scale(0.76 1)" font-size="6.2" font-weight="normal" text-anchor="start" fill="#111" stroke="#111" stroke-width="0.35">POROTHERM</text>
<text transform="translate(552 393.2) scale(0.8 1)" font-size="6.2" font-weight="normal" text-anchor="start" fill="#111" stroke="#111" stroke-width="0.35">25 PROFI</text>
<line x1="534.4" y1="401.6" x2="551.5" y2="386.5" stroke="#222" stroke-width="0.8"/>
<text x="359.5" y="222.6" font-size="8.9" font-weight="normal" text-anchor="middle" fill="#2a2a2a">Soba 3</text>
<text x="359.5" y="233.2" font-size="8.9" font-weight="normal" text-anchor="middle" fill="#2a2a2a">parket</text>
<text x="359.5" y="243.8" font-size="8.9" font-weight="normal" text-anchor="middle" fill="#2a2a2a">P=10,40 m²</text>
<text x="500" y="222.6" font-size="8.9" font-weight="normal" text-anchor="middle" fill="#2a2a2a">Soba 2</text>
<text x="500" y="233.2" font-size="8.9" font-weight="normal" text-anchor="middle" fill="#2a2a2a">parket</text>
<text x="500" y="243.8" font-size="8.9" font-weight="normal" text-anchor="middle" fill="#2a2a2a">P=10,56 m²</text>
<text x="680" y="250" font-size="8.9" font-weight="normal" text-anchor="middle" fill="#2a2a2a">Soba 1</text>
<text x="680" y="260.8" font-size="8.9" font-weight="normal" text-anchor="middle" fill="#2a2a2a">parket</text>
<text x="680" y="271.6" font-size="8.9" font-weight="normal" text-anchor="middle" fill="#2a2a2a">P=12,56 m²</text>
<text x="790" y="250.4" font-size="8.9" font-weight="normal" text-anchor="middle" fill="#2a2a2a">Balkon</text>
<text x="790" y="261.2" font-size="8.9" font-weight="normal" text-anchor="middle" fill="#2a2a2a">ker.pločice</text>
<text x="790" y="272" font-size="8.9" font-weight="normal" text-anchor="middle" fill="#2a2a2a">P=13,51 m²</text>
<text x="498.4" y="329.6" font-size="8.9" font-weight="normal" text-anchor="middle" fill="#2a2a2a">Hodnik i stubište</text>
<text x="498.4" y="340.3" font-size="8.9" font-weight="normal" text-anchor="middle" fill="#2a2a2a">ker.pločice</text>
<text x="498.4" y="351" font-size="8.9" font-weight="normal" text-anchor="middle" fill="#2a2a2a">P=9,27 m²</text>
<text x="339.5" y="345.6" font-size="8.9" font-weight="normal" text-anchor="middle" fill="#2a2a2a">Kupaonica 2</text>
<text x="339.5" y="356.1" font-size="8.9" font-weight="normal" text-anchor="middle" fill="#2a2a2a">ker.pločice</text>
<text x="339.5" y="366.6" font-size="8.9" font-weight="normal" text-anchor="middle" fill="#2a2a2a">P=4,90 m²</text>
<text x="667.4" y="372" font-size="8.9" font-weight="normal" text-anchor="middle" fill="#2a2a2a">Kupaonica 1</text>
<text x="667.4" y="382.5" font-size="8.9" font-weight="normal" text-anchor="middle" fill="#2a2a2a">ker.pločice</text>
<text x="667.4" y="393" font-size="8.9" font-weight="normal" text-anchor="middle" fill="#2a2a2a">P=3,19 m²</text>
<text x="503" y="391.2" font-size="8.7" font-weight="normal" text-anchor="middle" fill="#2a2a2a">Montažne stube</text>
<text x="570" y="351.8" font-size="10.4" font-weight="bold" text-anchor="middle" fill="#111" letter-spacing="0.25">STAN "S2"</text>
<line x1="192" y1="408.4" x2="192" y2="415" stroke="#222" stroke-width="0.9"/>
<line x1="192" y1="409.4" x2="199.5" y2="415" stroke="#222" stroke-width="0.9"/>
<line x1="256.4" y1="408.4" x2="256.4" y2="415" stroke="#222" stroke-width="0.9"/>
<line x1="256.4" y1="409.4" x2="248.8" y2="415" stroke="#222" stroke-width="0.9"/>
<line x1="290" y1="409" x2="290" y2="415" stroke="#222" stroke-width="0.8" stroke-dasharray="2 1.5"/>
<line x1="310.6" y1="408.4" x2="310.6" y2="415" stroke="#222" stroke-width="0.9"/>
<line x1="311" y1="409.4" x2="318" y2="415" stroke="#222" stroke-width="0.8"/>
<line x1="330.5" y1="408.4" x2="330.5" y2="415" stroke="#222" stroke-width="0.8"/>
<line x1="349.3" y1="408.4" x2="349.3" y2="415" stroke="#222" stroke-width="0.8"/>
<line x1="361.5" y1="408.4" x2="361.5" y2="415" stroke="#222" stroke-width="0.8"/>
<line x1="373.5" y1="408.4" x2="373.5" y2="415" stroke="#222" stroke-width="0.8"/>
<line x1="385.7" y1="408.4" x2="385.7" y2="415" stroke="#222" stroke-width="0.8"/>
<line x1="397.4" y1="408.4" x2="397.4" y2="415" stroke="#222" stroke-width="0.8"/>
<line x1="422" y1="408.4" x2="422" y2="415" stroke="#222" stroke-width="0.8"/>
<line x1="435" y1="408.4" x2="435" y2="415" stroke="#222" stroke-width="0.8"/>
<line x1="447.4" y1="408.4" x2="447.4" y2="415" stroke="#222" stroke-width="0.8"/>
<line x1="460.8" y1="408.4" x2="460.8" y2="415" stroke="#222" stroke-width="0.8"/>
<line x1="473" y1="408.4" x2="473" y2="415" stroke="#222" stroke-width="0.8"/>
<line x1="485" y1="408.4" x2="485" y2="415" stroke="#222" stroke-width="0.8"/>
<line x1="403" y1="402" x2="410.5" y2="413.5" stroke="#222" stroke-width="0.8"/>
<line x1="410" y1="412.8" x2="428" y2="412.8" stroke="#999" stroke-width="1.6"/>
<line x1="499.2" y1="408.4" x2="499.2" y2="415" stroke="#222" stroke-width="0.9"/>
<line x1="501.6" y1="408.4" x2="501.6" y2="415" stroke="#222" stroke-width="0.9"/>
<line x1="490.5" y1="415" x2="498.8" y2="409.4" stroke="#222" stroke-width="0.8"/>
<line x1="470.5" y1="415" x2="477" y2="409.4" stroke="#222" stroke-width="0.8"/>
<text x="557.4" y="418.4" font-size="8.9" font-weight="normal" text-anchor="middle" fill="#2a2a2a">Kupaonica</text>
<text transform="translate(581.5 421.5) scale(0.7 1)" font-size="15" font-weight="bold" text-anchor="start" fill="#000" stroke="#000" stroke-width="0.35">1</text>
<line x1="592" y1="412.2" x2="592" y2="413.4" stroke="#000" stroke-width="1.4"/>
<line x1="616.9" y1="408.4" x2="616.9" y2="415" stroke="#222" stroke-width="1"/>
<line x1="627.4" y1="408.4" x2="627.4" y2="415" stroke="#222" stroke-width="1"/>
<line x1="630.2" y1="411.6" x2="734" y2="411.6" stroke="#222" stroke-width="0.8"/>
<line x1="630.2" y1="411.6" x2="630.2" y2="415" stroke="#222" stroke-width="0.8"/>
<line x1="632" y1="413.4" x2="734" y2="413.4" stroke="#555" stroke-width="0.7"/>
<g opacity="0.38" font-weight="bold" stroke-linejoin="round"><path d="M347.5 216 L347.5 201 Q428 158 504 191" fill="none" stroke="#e4e4e4" stroke-width="6"/><path d="M347.5 216 L347.5 201 Q428 158 504 191" fill="none" stroke="#fff" stroke-width="4.2"/><text x="379" y="238" font-size="66" fill="#fff" stroke="#dedede" stroke-width="1.2">idea</text><text x="369" y="252.5" font-size="12" fill="#fff" stroke="#d8d8d8" stroke-width="0.9" letter-spacing="5.2">nekretnine</text></g>
<line x1="840" y1="0" x2="840" y2="1.8" stroke="#333" stroke-width="0.9"/>
<line x1="178.3" y1="0" x2="178.3" y2="1.6" stroke="#777" stroke-width="0.9"/>
</svg>
</body></html>
